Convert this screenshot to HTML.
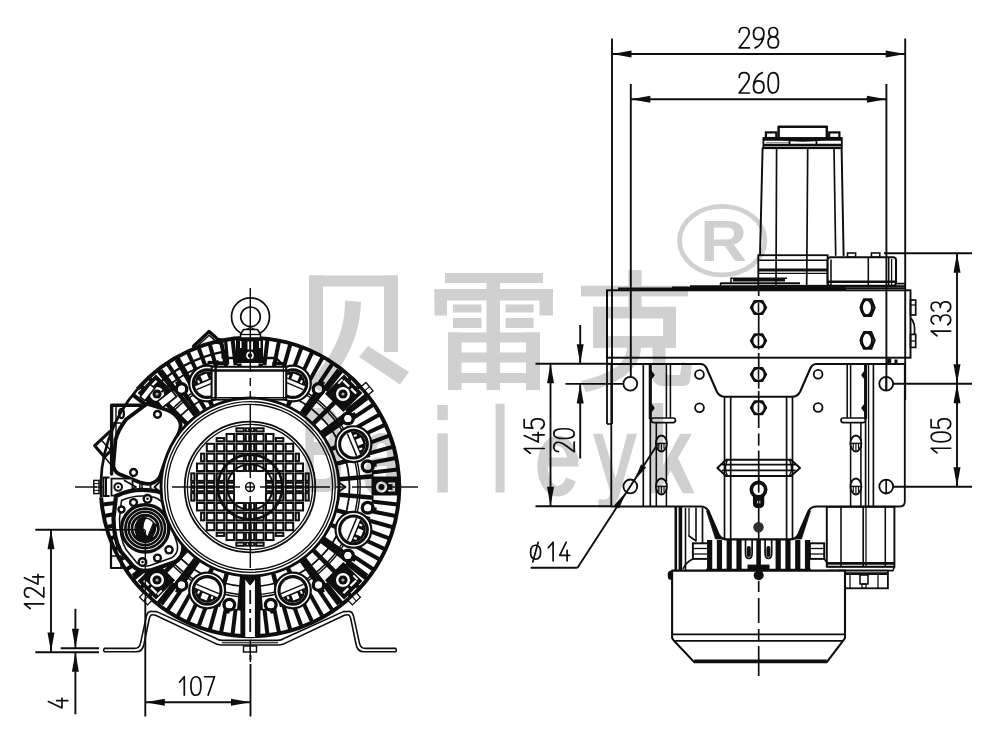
<!DOCTYPE html>
<html><head><meta charset="utf-8"><title>drawing</title>
<style>
html,body{margin:0;padding:0;background:#fff;}
body{width:1000px;height:746px;overflow:hidden;}
svg{display:block;filter:blur(0.45px);}
text{font-family:"Liberation Sans",sans-serif;}
</style></head><body>
<svg width="1000" height="746" viewBox="0 0 1000 746">
<rect x="0" y="0" width="1000" height="746" fill="#ffffff"/>
<g id="left">
<path d="M103.8 648.4 L134.5 648.4 Q139.5 648.4 140.6 642.8 L146.2 617.2 Q147.4 611 151.5 611.4 L156.6 611.6 L215 638 Q219 640.4 222.5 640.4 L250 640.4" fill="none" stroke="#0e0e0e" stroke-width="1.57" stroke-linejoin="round"/>
<path d="M103.8 651.8 L136 651.8 Q142.6 651.8 143.9 644.5 L149.2 619 Q150.2 614.6 152.5 614.8 L155.6 615.2 L213 642.4 Q217 645 221 645 L250 645" fill="none" stroke="#0e0e0e" stroke-width="1.57" stroke-linejoin="round"/>
<line x1="103.8" y1="648.4" x2="103.8" y2="651.8" stroke="#0e0e0e" stroke-width="1.57"/>
<line x1="222" y1="642.8" x2="250" y2="642.8" stroke="#0e0e0e" stroke-width="1.12"/>
<path d="M396.2 648.4 L365.5 648.4 Q360.5 648.4 359.4 642.8 L353.8 617.2 Q352.6 611 348.5 611.4 L343.4 611.6 L285 638 Q281 640.4 277.5 640.4 L250 640.4" fill="none" stroke="#0e0e0e" stroke-width="1.57" stroke-linejoin="round"/>
<path d="M396.2 651.8 L364 651.8 Q357.4 651.8 356.1 644.5 L350.8 619 Q349.8 614.6 347.5 614.8 L344.4 615.2 L287 642.4 Q283 645 279 645 L250 645" fill="none" stroke="#0e0e0e" stroke-width="1.57" stroke-linejoin="round"/>
<line x1="396.2" y1="648.4" x2="396.2" y2="651.8" stroke="#0e0e0e" stroke-width="1.57"/>
<line x1="278" y1="642.8" x2="250" y2="642.8" stroke="#0e0e0e" stroke-width="1.12"/>
<rect x="243.5" y="646" width="13" height="6" rx="0" fill="#fff" stroke="#0e0e0e" stroke-width="1.46"/>
<line x1="250.2" y1="646" x2="250.2" y2="652" stroke="#0e0e0e" stroke-width="1.12"/>
<circle cx="250" cy="487" r="149.2" fill="#fff" stroke="#0e0e0e" stroke-width="0"/>
<path d="M137.4 389.12 A149.2 149.2 0 1 1 101.16 497.41" fill="none" stroke="#0e0e0e" stroke-width="3.92" stroke-linejoin="round"/>
<path d="M137.4 389.12 A149.2 149.2 0 0 0 101.16 497.41" fill="none" stroke="#0e0e0e" stroke-width="2.69" stroke-linejoin="round"/>
<line x1="372.41" y1="482.19" x2="398.39" y2="481.17" stroke="#0e0e0e" stroke-width="4.03"/>
<line x1="371.65" y1="472.6" x2="397.47" y2="469.55" stroke="#0e0e0e" stroke-width="4.03"/>
<line x1="370.15" y1="463.1" x2="395.65" y2="458.03" stroke="#0e0e0e" stroke-width="4.03"/>
<line x1="367.9" y1="453.75" x2="392.92" y2="446.69" stroke="#0e0e0e" stroke-width="4.03"/>
<line x1="364.93" y1="444.6" x2="389.32" y2="435.6" stroke="#0e0e0e" stroke-width="4.03"/>
<line x1="361.25" y1="435.71" x2="384.86" y2="424.83" stroke="#0e0e0e" stroke-width="4.03"/>
<line x1="356.88" y1="427.14" x2="379.57" y2="414.44" stroke="#0e0e0e" stroke-width="4.03"/>
<line x1="351.86" y1="418.94" x2="373.47" y2="404.5" stroke="#0e0e0e" stroke-width="4.03"/>
<line x1="346.2" y1="411.16" x2="366.62" y2="395.06" stroke="#0e0e0e" stroke-width="4.03"/>
<line x1="339.95" y1="403.85" x2="359.05" y2="386.2" stroke="#0e0e0e" stroke-width="4.03"/>
<line x1="333.15" y1="397.05" x2="350.8" y2="377.95" stroke="#0e0e0e" stroke-width="4.03"/>
<line x1="325.84" y1="390.8" x2="341.94" y2="370.38" stroke="#0e0e0e" stroke-width="4.03"/>
<line x1="318.06" y1="385.14" x2="332.5" y2="363.53" stroke="#0e0e0e" stroke-width="4.03"/>
<line x1="309.86" y1="380.12" x2="322.56" y2="357.43" stroke="#0e0e0e" stroke-width="4.03"/>
<line x1="301.29" y1="375.75" x2="312.17" y2="352.14" stroke="#0e0e0e" stroke-width="4.03"/>
<line x1="292.4" y1="372.07" x2="301.4" y2="347.68" stroke="#0e0e0e" stroke-width="4.03"/>
<line x1="283.25" y1="369.1" x2="290.31" y2="344.08" stroke="#0e0e0e" stroke-width="4.03"/>
<line x1="273.9" y1="366.85" x2="278.97" y2="341.35" stroke="#0e0e0e" stroke-width="4.03"/>
<line x1="264.4" y1="365.35" x2="267.45" y2="339.53" stroke="#0e0e0e" stroke-width="4.03"/>
<line x1="235.6" y1="365.35" x2="232.55" y2="339.53" stroke="#0e0e0e" stroke-width="4.03"/>
<line x1="226.1" y1="366.85" x2="221.03" y2="341.35" stroke="#0e0e0e" stroke-width="4.03"/>
<line x1="216.75" y1="369.1" x2="209.69" y2="344.08" stroke="#0e0e0e" stroke-width="4.03"/>
<line x1="207.6" y1="372.07" x2="198.6" y2="347.68" stroke="#0e0e0e" stroke-width="4.03"/>
<line x1="198.71" y1="375.75" x2="187.83" y2="352.14" stroke="#0e0e0e" stroke-width="4.03"/>
<line x1="190.14" y1="380.12" x2="177.44" y2="357.43" stroke="#0e0e0e" stroke-width="4.03"/>
<line x1="181.94" y1="385.14" x2="167.5" y2="363.53" stroke="#0e0e0e" stroke-width="4.03"/>
<line x1="174.16" y1="390.8" x2="158.06" y2="370.38" stroke="#0e0e0e" stroke-width="4.03"/>
<line x1="166.85" y1="397.05" x2="149.2" y2="377.95" stroke="#0e0e0e" stroke-width="4.03"/>
<line x1="160.05" y1="403.85" x2="140.95" y2="386.2" stroke="#0e0e0e" stroke-width="4.03"/>
<line x1="153.8" y1="411.16" x2="133.38" y2="395.06" stroke="#0e0e0e" stroke-width="4.03"/>
<line x1="128.35" y1="501.4" x2="102.53" y2="504.45" stroke="#0e0e0e" stroke-width="4.03"/>
<line x1="129.85" y1="510.9" x2="104.35" y2="515.97" stroke="#0e0e0e" stroke-width="4.03"/>
<line x1="132.1" y1="520.25" x2="107.08" y2="527.31" stroke="#0e0e0e" stroke-width="4.03"/>
<line x1="135.07" y1="529.4" x2="110.68" y2="538.4" stroke="#0e0e0e" stroke-width="4.03"/>
<line x1="138.75" y1="538.29" x2="115.14" y2="549.17" stroke="#0e0e0e" stroke-width="4.03"/>
<line x1="143.12" y1="546.86" x2="120.43" y2="559.56" stroke="#0e0e0e" stroke-width="4.03"/>
<line x1="148.14" y1="555.06" x2="126.53" y2="569.5" stroke="#0e0e0e" stroke-width="4.03"/>
<line x1="153.8" y1="562.84" x2="133.38" y2="578.94" stroke="#0e0e0e" stroke-width="4.03"/>
<line x1="160.05" y1="570.15" x2="140.95" y2="587.8" stroke="#0e0e0e" stroke-width="4.03"/>
<line x1="166.85" y1="576.95" x2="149.2" y2="596.05" stroke="#0e0e0e" stroke-width="4.03"/>
<line x1="174.16" y1="583.2" x2="158.06" y2="603.62" stroke="#0e0e0e" stroke-width="4.03"/>
<line x1="181.94" y1="588.86" x2="167.5" y2="610.47" stroke="#0e0e0e" stroke-width="4.03"/>
<line x1="190.14" y1="593.88" x2="177.44" y2="616.57" stroke="#0e0e0e" stroke-width="4.03"/>
<line x1="198.71" y1="598.25" x2="187.83" y2="621.86" stroke="#0e0e0e" stroke-width="4.03"/>
<line x1="207.6" y1="601.93" x2="198.6" y2="626.32" stroke="#0e0e0e" stroke-width="4.03"/>
<line x1="216.75" y1="604.9" x2="209.69" y2="629.92" stroke="#0e0e0e" stroke-width="4.03"/>
<line x1="226.1" y1="607.15" x2="221.03" y2="632.65" stroke="#0e0e0e" stroke-width="4.03"/>
<line x1="235.6" y1="608.65" x2="232.55" y2="634.47" stroke="#0e0e0e" stroke-width="4.03"/>
<line x1="264.4" y1="608.65" x2="267.45" y2="634.47" stroke="#0e0e0e" stroke-width="4.03"/>
<line x1="273.9" y1="607.15" x2="278.97" y2="632.65" stroke="#0e0e0e" stroke-width="4.03"/>
<line x1="283.25" y1="604.9" x2="290.31" y2="629.92" stroke="#0e0e0e" stroke-width="4.03"/>
<line x1="292.4" y1="601.93" x2="301.4" y2="626.32" stroke="#0e0e0e" stroke-width="4.03"/>
<line x1="301.29" y1="598.25" x2="312.17" y2="621.86" stroke="#0e0e0e" stroke-width="4.03"/>
<line x1="309.86" y1="593.88" x2="322.56" y2="616.57" stroke="#0e0e0e" stroke-width="4.03"/>
<line x1="318.06" y1="588.86" x2="332.5" y2="610.47" stroke="#0e0e0e" stroke-width="4.03"/>
<line x1="325.84" y1="583.2" x2="341.94" y2="603.62" stroke="#0e0e0e" stroke-width="4.03"/>
<line x1="333.15" y1="576.95" x2="350.8" y2="596.05" stroke="#0e0e0e" stroke-width="4.03"/>
<line x1="339.95" y1="570.15" x2="359.05" y2="587.8" stroke="#0e0e0e" stroke-width="4.03"/>
<line x1="346.2" y1="562.84" x2="366.62" y2="578.94" stroke="#0e0e0e" stroke-width="4.03"/>
<line x1="351.86" y1="555.06" x2="373.47" y2="569.5" stroke="#0e0e0e" stroke-width="4.03"/>
<line x1="356.88" y1="546.86" x2="379.57" y2="559.56" stroke="#0e0e0e" stroke-width="4.03"/>
<line x1="361.25" y1="538.29" x2="384.86" y2="549.17" stroke="#0e0e0e" stroke-width="4.03"/>
<line x1="364.93" y1="529.4" x2="389.32" y2="538.4" stroke="#0e0e0e" stroke-width="4.03"/>
<line x1="367.9" y1="520.25" x2="392.92" y2="527.31" stroke="#0e0e0e" stroke-width="4.03"/>
<line x1="370.15" y1="510.9" x2="395.65" y2="515.97" stroke="#0e0e0e" stroke-width="4.03"/>
<line x1="371.65" y1="501.4" x2="397.47" y2="504.45" stroke="#0e0e0e" stroke-width="4.03"/>
<line x1="372.41" y1="491.81" x2="398.39" y2="492.83" stroke="#0e0e0e" stroke-width="4.03"/>
<line x1="339.66" y1="479.16" x2="373.53" y2="476.19" stroke="#0e0e0e" stroke-width="4.48"/>
<line x1="336.93" y1="463.71" x2="369.77" y2="454.91" stroke="#0e0e0e" stroke-width="4.48"/>
<line x1="331.57" y1="448.96" x2="362.38" y2="434.6" stroke="#0e0e0e" stroke-width="4.48"/>
<line x1="323.72" y1="435.38" x2="351.57" y2="415.88" stroke="#0e0e0e" stroke-width="4.48"/>
<line x1="313.64" y1="423.36" x2="337.68" y2="399.32" stroke="#0e0e0e" stroke-width="4.48"/>
<line x1="301.62" y1="413.28" x2="321.12" y2="385.43" stroke="#0e0e0e" stroke-width="4.48"/>
<line x1="288.04" y1="405.43" x2="302.4" y2="374.62" stroke="#0e0e0e" stroke-width="4.48"/>
<line x1="273.29" y1="400.07" x2="282.09" y2="367.23" stroke="#0e0e0e" stroke-width="4.48"/>
<line x1="257.84" y1="397.34" x2="260.81" y2="363.47" stroke="#0e0e0e" stroke-width="4.48"/>
<line x1="242.16" y1="397.34" x2="239.19" y2="363.47" stroke="#0e0e0e" stroke-width="4.48"/>
<line x1="226.71" y1="400.07" x2="217.91" y2="367.23" stroke="#0e0e0e" stroke-width="4.48"/>
<line x1="211.96" y1="405.43" x2="197.6" y2="374.62" stroke="#0e0e0e" stroke-width="4.48"/>
<line x1="198.38" y1="413.28" x2="178.88" y2="385.43" stroke="#0e0e0e" stroke-width="4.48"/>
<line x1="186.36" y1="423.36" x2="162.32" y2="399.32" stroke="#0e0e0e" stroke-width="4.48"/>
<line x1="176.28" y1="435.38" x2="148.43" y2="415.88" stroke="#0e0e0e" stroke-width="4.48"/>
<line x1="168.43" y1="448.96" x2="137.62" y2="434.6" stroke="#0e0e0e" stroke-width="4.48"/>
<line x1="163.07" y1="463.71" x2="130.23" y2="454.91" stroke="#0e0e0e" stroke-width="4.48"/>
<line x1="160.34" y1="479.16" x2="126.47" y2="476.19" stroke="#0e0e0e" stroke-width="4.48"/>
<line x1="160.34" y1="494.84" x2="126.47" y2="497.81" stroke="#0e0e0e" stroke-width="4.48"/>
<line x1="163.07" y1="510.29" x2="130.23" y2="519.09" stroke="#0e0e0e" stroke-width="4.48"/>
<line x1="168.43" y1="525.04" x2="137.62" y2="539.4" stroke="#0e0e0e" stroke-width="4.48"/>
<line x1="176.28" y1="538.62" x2="148.43" y2="558.12" stroke="#0e0e0e" stroke-width="4.48"/>
<line x1="186.36" y1="550.64" x2="162.32" y2="574.68" stroke="#0e0e0e" stroke-width="4.48"/>
<line x1="198.38" y1="560.72" x2="178.88" y2="588.57" stroke="#0e0e0e" stroke-width="4.48"/>
<line x1="211.96" y1="568.57" x2="197.6" y2="599.38" stroke="#0e0e0e" stroke-width="4.48"/>
<line x1="226.71" y1="573.93" x2="217.91" y2="606.77" stroke="#0e0e0e" stroke-width="4.48"/>
<line x1="242.16" y1="576.66" x2="239.19" y2="610.53" stroke="#0e0e0e" stroke-width="4.48"/>
<line x1="257.84" y1="576.66" x2="260.81" y2="610.53" stroke="#0e0e0e" stroke-width="4.48"/>
<line x1="273.29" y1="573.93" x2="282.09" y2="606.77" stroke="#0e0e0e" stroke-width="4.48"/>
<line x1="288.04" y1="568.57" x2="302.4" y2="599.38" stroke="#0e0e0e" stroke-width="4.48"/>
<line x1="301.62" y1="560.72" x2="321.12" y2="588.57" stroke="#0e0e0e" stroke-width="4.48"/>
<line x1="313.64" y1="550.64" x2="337.68" y2="574.68" stroke="#0e0e0e" stroke-width="4.48"/>
<line x1="323.72" y1="538.62" x2="351.57" y2="558.12" stroke="#0e0e0e" stroke-width="4.48"/>
<line x1="331.57" y1="525.04" x2="362.38" y2="539.4" stroke="#0e0e0e" stroke-width="4.48"/>
<line x1="336.93" y1="510.29" x2="369.77" y2="519.09" stroke="#0e0e0e" stroke-width="4.48"/>
<line x1="339.66" y1="494.84" x2="373.53" y2="497.81" stroke="#0e0e0e" stroke-width="4.48"/>
<line x1="321.69" y1="432.59" x2="367.09" y2="398.12" stroke="#0e0e0e" stroke-width="4.26"/>
<line x1="304.41" y1="415.31" x2="338.88" y2="369.91" stroke="#0e0e0e" stroke-width="4.26"/>
<line x1="205" y1="409.06" x2="176.5" y2="359.69" stroke="#0e0e0e" stroke-width="4.26"/>
<line x1="195.34" y1="415.5" x2="160.72" y2="370.22" stroke="#0e0e0e" stroke-width="4.26"/>
<line x1="304.41" y1="558.69" x2="338.88" y2="604.09" stroke="#0e0e0e" stroke-width="4.26"/>
<line x1="321.69" y1="541.41" x2="367.09" y2="575.88" stroke="#0e0e0e" stroke-width="4.26"/>
<line x1="178.31" y1="541.41" x2="132.91" y2="575.88" stroke="#0e0e0e" stroke-width="4.26"/>
<line x1="195.59" y1="558.69" x2="161.12" y2="604.09" stroke="#0e0e0e" stroke-width="4.26"/>
<circle cx="250" cy="487" r="99.5" fill="none" stroke="#0e0e0e" stroke-width="1.79"/>
<circle cx="250" cy="487" r="108" fill="none" stroke="#0e0e0e" stroke-width="1.46"/>
<circle cx="250" cy="487" r="110.2" fill="none" stroke="#0e0e0e" stroke-width="1.46"/>
<circle cx="353.47" cy="444.14" r="19" fill="#0e0e0e" stroke="#0e0e0e" stroke-width="0"/>
<circle cx="353.47" cy="444.14" r="16.1" fill="none" stroke="#fff" stroke-width="1.46"/>
<circle cx="353.47" cy="444.14" r="12.3" fill="#fff" stroke="#0e0e0e" stroke-width="0"/>
<g transform="translate(353.47 444.14) rotate(247.5)">
<path d="M-12.1 2.2 A12.3 12.3 0 0 0 12.1 2.2 Z" fill="#0e0e0e"/>
<rect x="-3.3" y="3.8" width="6.6" height="5.6" fill="#fff"/>
<rect x="-8.2" y="3.4" width="2" height="3" fill="#fff"/>
<rect x="6.2" y="3.4" width="2" height="3" fill="#fff"/>
<line x1="-12" y1="-1.6" x2="12" y2="-1.6" stroke="#0e0e0e" stroke-width="1.5"/>
</g>
<circle cx="353.47" cy="529.86" r="19" fill="#0e0e0e" stroke="#0e0e0e" stroke-width="0"/>
<circle cx="353.47" cy="529.86" r="16.1" fill="none" stroke="#fff" stroke-width="1.46"/>
<circle cx="353.47" cy="529.86" r="12.3" fill="#fff" stroke="#0e0e0e" stroke-width="0"/>
<g transform="translate(353.47 529.86) rotate(-67.5)">
<path d="M-12.1 2.2 A12.3 12.3 0 0 0 12.1 2.2 Z" fill="#0e0e0e"/>
<rect x="-3.3" y="3.8" width="6.6" height="5.6" fill="#fff"/>
<rect x="-8.2" y="3.4" width="2" height="3" fill="#fff"/>
<rect x="6.2" y="3.4" width="2" height="3" fill="#fff"/>
<line x1="-12" y1="-1.6" x2="12" y2="-1.6" stroke="#0e0e0e" stroke-width="1.5"/>
</g>
<circle cx="292.86" cy="590.47" r="19" fill="#0e0e0e" stroke="#0e0e0e" stroke-width="0"/>
<circle cx="292.86" cy="590.47" r="16.1" fill="none" stroke="#fff" stroke-width="1.46"/>
<circle cx="292.86" cy="590.47" r="12.3" fill="#fff" stroke="#0e0e0e" stroke-width="0"/>
<g transform="translate(292.86 590.47) rotate(-22.5)">
<path d="M-12.1 2.2 A12.3 12.3 0 0 0 12.1 2.2 Z" fill="#0e0e0e"/>
<rect x="-3.3" y="3.8" width="6.6" height="5.6" fill="#fff"/>
<rect x="-8.2" y="3.4" width="2" height="3" fill="#fff"/>
<rect x="6.2" y="3.4" width="2" height="3" fill="#fff"/>
<line x1="-12" y1="-1.6" x2="12" y2="-1.6" stroke="#0e0e0e" stroke-width="1.5"/>
</g>
<circle cx="207.14" cy="590.47" r="19" fill="#0e0e0e" stroke="#0e0e0e" stroke-width="0"/>
<circle cx="207.14" cy="590.47" r="16.1" fill="none" stroke="#fff" stroke-width="1.46"/>
<circle cx="207.14" cy="590.47" r="12.3" fill="#fff" stroke="#0e0e0e" stroke-width="0"/>
<g transform="translate(207.14 590.47) rotate(22.5)">
<path d="M-12.1 2.2 A12.3 12.3 0 0 0 12.1 2.2 Z" fill="#0e0e0e"/>
<rect x="-3.3" y="3.8" width="6.6" height="5.6" fill="#fff"/>
<rect x="-8.2" y="3.4" width="2" height="3" fill="#fff"/>
<rect x="6.2" y="3.4" width="2" height="3" fill="#fff"/>
<line x1="-12" y1="-1.6" x2="12" y2="-1.6" stroke="#0e0e0e" stroke-width="1.5"/>
</g>
<circle cx="292.86" cy="383.53" r="19" fill="#0e0e0e" stroke="#0e0e0e" stroke-width="0"/>
<circle cx="292.86" cy="383.53" r="16.1" fill="none" stroke="#fff" stroke-width="1.46"/>
<circle cx="292.86" cy="383.53" r="12.3" fill="#fff" stroke="#0e0e0e" stroke-width="0"/>
<g transform="translate(292.86 383.53) rotate(202.5)">
<path d="M-12.1 2.2 A12.3 12.3 0 0 0 12.1 2.2 Z" fill="#0e0e0e"/>
<rect x="-3.3" y="3.8" width="6.6" height="5.6" fill="#fff"/>
<rect x="-8.2" y="3.4" width="2" height="3" fill="#fff"/>
<rect x="6.2" y="3.4" width="2" height="3" fill="#fff"/>
<line x1="-12" y1="-1.6" x2="12" y2="-1.6" stroke="#0e0e0e" stroke-width="1.5"/>
</g>
<circle cx="207.14" cy="383.53" r="19" fill="#0e0e0e" stroke="#0e0e0e" stroke-width="0"/>
<circle cx="207.14" cy="383.53" r="16.1" fill="none" stroke="#fff" stroke-width="1.46"/>
<circle cx="207.14" cy="383.53" r="12.3" fill="#fff" stroke="#0e0e0e" stroke-width="0"/>
<g transform="translate(207.14 383.53) rotate(157.5)">
<path d="M-12.1 2.2 A12.3 12.3 0 0 0 12.1 2.2 Z" fill="#0e0e0e"/>
<rect x="-3.3" y="3.8" width="6.6" height="5.6" fill="#fff"/>
<rect x="-8.2" y="3.4" width="2" height="3" fill="#fff"/>
<rect x="6.2" y="3.4" width="2" height="3" fill="#fff"/>
<line x1="-12" y1="-1.6" x2="12" y2="-1.6" stroke="#0e0e0e" stroke-width="1.5"/>
</g>
<circle cx="367.68" cy="466.25" r="7" fill="#0e0e0e" stroke="#0e0e0e" stroke-width="0"/>
<circle cx="367.68" cy="466.25" r="3.5" fill="#fff" stroke="#0e0e0e" stroke-width="0"/>
<line x1="367.68" y1="466.25" x2="376.55" y2="464.69" stroke="#0e0e0e" stroke-width="3.36"/>
<circle cx="367.68" cy="466.25" r="3.5" fill="#fff" stroke="#0e0e0e" stroke-width="0"/>
<circle cx="347.89" cy="418.46" r="7" fill="#0e0e0e" stroke="#0e0e0e" stroke-width="0"/>
<circle cx="347.89" cy="418.46" r="3.5" fill="#fff" stroke="#0e0e0e" stroke-width="0"/>
<line x1="347.89" y1="418.46" x2="355.26" y2="413.3" stroke="#0e0e0e" stroke-width="3.36"/>
<circle cx="347.89" cy="418.46" r="3.5" fill="#fff" stroke="#0e0e0e" stroke-width="0"/>
<circle cx="318.54" cy="389.11" r="7" fill="#0e0e0e" stroke="#0e0e0e" stroke-width="0"/>
<circle cx="318.54" cy="389.11" r="3.5" fill="#fff" stroke="#0e0e0e" stroke-width="0"/>
<line x1="318.54" y1="389.11" x2="323.7" y2="381.74" stroke="#0e0e0e" stroke-width="3.36"/>
<circle cx="318.54" cy="389.11" r="3.5" fill="#fff" stroke="#0e0e0e" stroke-width="0"/>
<circle cx="181.46" cy="389.11" r="7" fill="#0e0e0e" stroke="#0e0e0e" stroke-width="0"/>
<circle cx="181.46" cy="389.11" r="3.5" fill="#fff" stroke="#0e0e0e" stroke-width="0"/>
<line x1="181.46" y1="389.11" x2="176.3" y2="381.74" stroke="#0e0e0e" stroke-width="3.36"/>
<circle cx="181.46" cy="389.11" r="3.5" fill="#fff" stroke="#0e0e0e" stroke-width="0"/>
<circle cx="181.46" cy="584.89" r="7" fill="#0e0e0e" stroke="#0e0e0e" stroke-width="0"/>
<circle cx="181.46" cy="584.89" r="3.5" fill="#fff" stroke="#0e0e0e" stroke-width="0"/>
<line x1="181.46" y1="584.89" x2="176.3" y2="592.26" stroke="#0e0e0e" stroke-width="3.36"/>
<circle cx="181.46" cy="584.89" r="3.5" fill="#fff" stroke="#0e0e0e" stroke-width="0"/>
<circle cx="229.25" cy="604.68" r="7" fill="#0e0e0e" stroke="#0e0e0e" stroke-width="0"/>
<circle cx="229.25" cy="604.68" r="3.5" fill="#fff" stroke="#0e0e0e" stroke-width="0"/>
<line x1="229.25" y1="604.68" x2="227.69" y2="613.55" stroke="#0e0e0e" stroke-width="3.36"/>
<circle cx="229.25" cy="604.68" r="3.5" fill="#fff" stroke="#0e0e0e" stroke-width="0"/>
<circle cx="270.75" cy="604.68" r="7" fill="#0e0e0e" stroke="#0e0e0e" stroke-width="0"/>
<circle cx="270.75" cy="604.68" r="3.5" fill="#fff" stroke="#0e0e0e" stroke-width="0"/>
<line x1="270.75" y1="604.68" x2="272.31" y2="613.55" stroke="#0e0e0e" stroke-width="3.36"/>
<circle cx="270.75" cy="604.68" r="3.5" fill="#fff" stroke="#0e0e0e" stroke-width="0"/>
<circle cx="318.54" cy="584.89" r="7" fill="#0e0e0e" stroke="#0e0e0e" stroke-width="0"/>
<circle cx="318.54" cy="584.89" r="3.5" fill="#fff" stroke="#0e0e0e" stroke-width="0"/>
<line x1="318.54" y1="584.89" x2="323.7" y2="592.26" stroke="#0e0e0e" stroke-width="3.36"/>
<circle cx="318.54" cy="584.89" r="3.5" fill="#fff" stroke="#0e0e0e" stroke-width="0"/>
<circle cx="347.89" cy="555.54" r="7" fill="#0e0e0e" stroke="#0e0e0e" stroke-width="0"/>
<circle cx="347.89" cy="555.54" r="3.5" fill="#fff" stroke="#0e0e0e" stroke-width="0"/>
<line x1="347.89" y1="555.54" x2="355.26" y2="560.7" stroke="#0e0e0e" stroke-width="3.36"/>
<circle cx="347.89" cy="555.54" r="3.5" fill="#fff" stroke="#0e0e0e" stroke-width="0"/>
<circle cx="367.68" cy="507.75" r="7" fill="#0e0e0e" stroke="#0e0e0e" stroke-width="0"/>
<circle cx="367.68" cy="507.75" r="3.5" fill="#fff" stroke="#0e0e0e" stroke-width="0"/>
<line x1="367.68" y1="507.75" x2="376.55" y2="509.31" stroke="#0e0e0e" stroke-width="3.36"/>
<circle cx="367.68" cy="507.75" r="3.5" fill="#fff" stroke="#0e0e0e" stroke-width="0"/>
<g transform="translate(342.98 394.02) rotate(-45)">
<rect x="-12.5" y="-13" width="27" height="26" fill="#0e0e0e"/>
<rect x="8.5" y="-9" width="2.2" height="8" fill="#fff"/>
<rect x="8.5" y="2" width="2.2" height="7" fill="#fff"/>
<rect x="4" y="-11.5" width="6" height="1.8" fill="#fff"/>
</g>
<circle cx="342.98" cy="394.02" r="7" fill="#fff" stroke="#0e0e0e" stroke-width="0"/>
<circle cx="342.98" cy="394.02" r="4.6" fill="#0e0e0e" stroke="#0e0e0e" stroke-width="0"/>
<circle cx="342.98" cy="394.02" r="1.6" fill="#aaa" stroke="#0e0e0e" stroke-width="0"/>
<g transform="translate(157.02 394.02) rotate(-135)">
<rect x="-12.5" y="-13" width="27" height="26" fill="#0e0e0e"/>
<rect x="8.5" y="-9" width="2.2" height="8" fill="#fff"/>
<rect x="8.5" y="2" width="2.2" height="7" fill="#fff"/>
<rect x="4" y="-11.5" width="6" height="1.8" fill="#fff"/>
</g>
<circle cx="157.02" cy="394.02" r="7" fill="#fff" stroke="#0e0e0e" stroke-width="0"/>
<circle cx="157.02" cy="394.02" r="4.6" fill="#0e0e0e" stroke="#0e0e0e" stroke-width="0"/>
<circle cx="157.02" cy="394.02" r="1.6" fill="#aaa" stroke="#0e0e0e" stroke-width="0"/>
<g transform="translate(157.02 579.98) rotate(-225)">
<rect x="-12.5" y="-13" width="27" height="26" fill="#0e0e0e"/>
<rect x="8.5" y="-9" width="2.2" height="8" fill="#fff"/>
<rect x="8.5" y="2" width="2.2" height="7" fill="#fff"/>
<rect x="4" y="-11.5" width="6" height="1.8" fill="#fff"/>
</g>
<circle cx="157.02" cy="579.98" r="7" fill="#fff" stroke="#0e0e0e" stroke-width="0"/>
<circle cx="157.02" cy="579.98" r="4.6" fill="#0e0e0e" stroke="#0e0e0e" stroke-width="0"/>
<circle cx="157.02" cy="579.98" r="1.6" fill="#aaa" stroke="#0e0e0e" stroke-width="0"/>
<g transform="translate(342.98 579.98) rotate(-315)">
<rect x="-12.5" y="-13" width="27" height="26" fill="#0e0e0e"/>
<rect x="8.5" y="-9" width="2.2" height="8" fill="#fff"/>
<rect x="8.5" y="2" width="2.2" height="7" fill="#fff"/>
<rect x="4" y="-11.5" width="6" height="1.8" fill="#fff"/>
</g>
<circle cx="342.98" cy="579.98" r="7" fill="#fff" stroke="#0e0e0e" stroke-width="0"/>
<circle cx="342.98" cy="579.98" r="4.6" fill="#0e0e0e" stroke="#0e0e0e" stroke-width="0"/>
<circle cx="342.98" cy="579.98" r="1.6" fill="#aaa" stroke="#0e0e0e" stroke-width="0"/>
<g transform="translate(366.82 388.97) rotate(-40)">
<rect x="-2.5" y="-5.5" width="6" height="11" fill="#fff" stroke="#0e0e0e" stroke-width="1.3"/>
<line x1="-2.5" y1="0" x2="3.5" y2="0" stroke="#0e0e0e" stroke-width="1"/>
</g>
<g transform="translate(146 598.53) rotate(-227)">
<rect x="-2.5" y="-5.5" width="6" height="11" fill="#fff" stroke="#0e0e0e" stroke-width="1.3"/>
<line x1="-2.5" y1="0" x2="3.5" y2="0" stroke="#0e0e0e" stroke-width="1"/>
</g>
<g transform="translate(354 598.53) rotate(-313)">
<rect x="-2.5" y="-5.5" width="6" height="11" fill="#fff" stroke="#0e0e0e" stroke-width="1.3"/>
<line x1="-2.5" y1="0" x2="3.5" y2="0" stroke="#0e0e0e" stroke-width="1"/>
</g>
<rect x="371.5" y="476.5" width="29" height="19" rx="0" fill="#0e0e0e" stroke="#0e0e0e" stroke-width="0"/>
<circle cx="381.5" cy="487" r="5.6" fill="#fff" stroke="#0e0e0e" stroke-width="0"/>
<circle cx="381.5" cy="487" r="3" fill="#0e0e0e" stroke="#0e0e0e" stroke-width="0"/>
<rect x="392.5" y="482.5" width="2.6" height="9" rx="0" fill="#fff" stroke="#0e0e0e" stroke-width="0"/>
<rect x="388.3" y="482.5" width="4.5" height="1.6" rx="0" fill="#fff" stroke="#0e0e0e" stroke-width="0"/>
<rect x="388.3" y="489.9" width="4.5" height="1.6" rx="0" fill="#fff" stroke="#0e0e0e" stroke-width="0"/>
<path d="M337.5 481.5 L345.5 487 L337.5 492.5 Z" fill="#fff" stroke="#0e0e0e" stroke-width="1.79" stroke-linejoin="round" stroke-linecap="round"/>
<rect x="240.4" y="573" width="20" height="64" rx="0" fill="#0e0e0e" stroke="#0e0e0e" stroke-width="0"/>
<rect x="245.3" y="579" width="9.6" height="58" rx="0" fill="#fff" stroke="#0e0e0e" stroke-width="0"/>
<path d="M245.3 579 L250.1 585 L254.9 579 Z" fill="#0e0e0e" stroke="#0e0e0e" stroke-width="1.12" stroke-linejoin="round" stroke-linecap="round"/>
<line x1="250.2" y1="590" x2="250.2" y2="604" stroke="#0e0e0e" stroke-width="1.79"/>
<line x1="250.2" y1="609" x2="250.2" y2="613" stroke="#0e0e0e" stroke-width="1.79"/>
<line x1="250.2" y1="618" x2="250.2" y2="632" stroke="#0e0e0e" stroke-width="1.79"/>
<rect x="211.6" y="366.8" width="74.6" height="32.8" rx="0" fill="#fff" stroke="#0e0e0e" stroke-width="2.02"/>
<line x1="215.6" y1="366.8" x2="215.6" y2="399.6" stroke="#0e0e0e" stroke-width="2.46"/>
<line x1="211.6" y1="370.4" x2="286.2" y2="370.4" stroke="#0e0e0e" stroke-width="2.46"/>
<line x1="211.6" y1="397.6" x2="286.2" y2="397.6" stroke="#0e0e0e" stroke-width="1.12"/>
<line x1="283.4" y1="366.8" x2="283.4" y2="399.6" stroke="#0e0e0e" stroke-width="1.12"/>
<line x1="213.6" y1="363.6" x2="227" y2="363.6" stroke="#0e0e0e" stroke-width="3.36"/>
<line x1="272.4" y1="363.6" x2="286.4" y2="363.6" stroke="#0e0e0e" stroke-width="3.36"/>
<rect x="236" y="339" width="27" height="24" rx="0" fill="#0e0e0e" stroke="#0e0e0e" stroke-width="0"/>
<rect x="247.5" y="341.5" width="1.8" height="8" rx="0" fill="#fff" stroke="#0e0e0e" stroke-width="0"/>
<rect x="251.2" y="341.5" width="1.8" height="8" rx="0" fill="#fff" stroke="#0e0e0e" stroke-width="0"/>
<rect x="240" y="341" width="1.5" height="7" rx="0" fill="#fff" stroke="#0e0e0e" stroke-width="0"/>
<rect x="259" y="341" width="1.5" height="7" rx="0" fill="#fff" stroke="#0e0e0e" stroke-width="0"/>
<circle cx="250" cy="355.4" r="4.6" fill="#fff" stroke="#0e0e0e" stroke-width="1.57"/>
<circle cx="250" cy="355.4" r="2.2" fill="#0e0e0e" stroke="#0e0e0e" stroke-width="0"/>
<path d="M228 358 L236 358" fill="none" stroke="#0e0e0e" stroke-width="2.46" stroke-linejoin="round" stroke-linecap="round"/>
<path d="M263 358 L276 358 L280 362" fill="none" stroke="#0e0e0e" stroke-width="2.46" stroke-linejoin="round" stroke-linecap="round"/>
<circle cx="250.5" cy="316.8" r="19" fill="#fff" stroke="#0e0e0e" stroke-width="1.68"/>
<circle cx="250.5" cy="316.8" r="9.8" fill="none" stroke="#0e0e0e" stroke-width="1.68"/>
<path d="M240.5 334.5 L243.5 329.5 L257.5 329.5 L260.5 334.5 L260.5 338 L240.5 338 Z" fill="#fff" stroke="#0e0e0e" stroke-width="1.57" stroke-linejoin="round" stroke-linecap="round"/>
<line x1="241" y1="334.5" x2="260" y2="334.5" stroke="#0e0e0e" stroke-width="1.34"/>
<path d="M246 329.5 L250.5 327.5 L255 329.5" fill="none" stroke="#0e0e0e" stroke-width="1.23" stroke-linejoin="round" stroke-linecap="round"/>
<path d="M193.5 346.3 L209.1 331.5 L218 339.5 L225.6 341.2 L227.6 363.4 L209 362.4" fill="none" stroke="#0e0e0e" stroke-width="3.36" stroke-linejoin="round" stroke-linecap="round"/>
<path d="M197.5 346 L209.1 335.2 L215.5 341" fill="none" stroke="#0e0e0e" stroke-width="1.57" stroke-linejoin="round" stroke-linecap="round"/>
<path d="M216.5 343 L222.5 344.5 L224 360" fill="none" stroke="#0e0e0e" stroke-width="1.57" stroke-linejoin="round" stroke-linecap="round"/>
<rect x="221.5" y="349.5" width="6" height="9" rx="0" fill="#0e0e0e" stroke="#0e0e0e" stroke-width="0"/>
<path d="M223.67 351.54 A138 138 0 0 0 149.07 392.88" fill="none" stroke="#0e0e0e" stroke-width="2.24" stroke-linejoin="round"/>
<path d="M218.55 360.86 A130 130 0 0 0 161.34 391.92" fill="none" stroke="#0e0e0e" stroke-width="2.02" stroke-linejoin="round"/>
<g transform="translate(167 399) rotate(-38)"><rect x="-9" y="-4" width="18" height="8" fill="#fff" stroke="#0e0e0e" stroke-width="1.8"/></g>
<g transform="translate(147.5 392.5) rotate(-52)"><rect x="-8" y="-3" width="16" height="6" fill="#fff" stroke="#0e0e0e" stroke-width="1.6"/></g>
<path d="M111.6 474 L111.6 405.3 L140.5 405.3" fill="none" stroke="#0e0e0e" stroke-width="3.36" stroke-linejoin="round" stroke-linecap="round"/>
<line x1="111.6" y1="423" x2="121" y2="423" stroke="#0e0e0e" stroke-width="1.57"/>
<line x1="116" y1="405.3" x2="116" y2="440" stroke="#0e0e0e" stroke-width="1.46"/>
<ellipse cx="121.5" cy="413.5" rx="2.4" ry="4.6" fill="none" stroke="#0e0e0e" stroke-width="2.24"/>
<path d="M109.7 431.6 L94.7 445.7 L104.5 457 L111.6 450" fill="none" stroke="#0e0e0e" stroke-width="3.14" stroke-linejoin="round" stroke-linecap="round"/>
<path d="M101 439.8 L111.4 451" fill="none" stroke="#0e0e0e" stroke-width="1.57" stroke-linejoin="round" stroke-linecap="round"/>
<path d="M104.5 457 L112 466" fill="none" stroke="#0e0e0e" stroke-width="1.57" stroke-linejoin="round" stroke-linecap="round"/>
<path d="M147 403.8 L126 419.5 Q118 430 115.5 440 L113.3 465 Q113.5 471 119 474 L139.5 482.2 Q146 484.5 151 483.5 Q157.5 481.5 160 476.5 Q163.5 466 166.5 459 Q171.5 446 177.5 436 Q182 427.5 180 421.5 Q176 413.5 167 410 Z" fill="#fff" stroke="#0e0e0e" stroke-width="3.81" stroke-linejoin="round"/>
<circle cx="157.5" cy="414.3" r="3.4" fill="none" stroke="#0e0e0e" stroke-width="2.46"/>
<circle cx="133.6" cy="472.5" r="3.4" fill="none" stroke="#0e0e0e" stroke-width="2.46"/>
<rect x="93.8" y="480.4" width="5.2" height="13.2" rx="0" fill="#fff" stroke="#0e0e0e" stroke-width="1.46"/>
<line x1="93.8" y1="483.6" x2="99" y2="483.6" stroke="#0e0e0e" stroke-width="1.01"/>
<line x1="93.8" y1="487" x2="99" y2="487" stroke="#0e0e0e" stroke-width="1.01"/>
<line x1="93.8" y1="490.4" x2="99" y2="490.4" stroke="#0e0e0e" stroke-width="1.01"/>
<line x1="99" y1="487" x2="103" y2="487" stroke="#0e0e0e" stroke-width="1.34"/>
<path d="M109.6 477.6 L103.4 477.6 L103.4 496 L109.6 496 M106 477.6 L106 496" fill="none" stroke="#0e0e0e" stroke-width="2.02" stroke-linejoin="round"/>
<rect x="111.5" y="478.6" width="21" height="17" rx="0" fill="#fff" stroke="#0e0e0e" stroke-width="1.79"/>
<circle cx="118.2" cy="487" r="3.8" fill="none" stroke="#0e0e0e" stroke-width="2.02"/>
<circle cx="118.2" cy="487" r="1.2" fill="#0e0e0e" stroke="#0e0e0e" stroke-width="0"/>
<path d="M124.5 480.5 L136 487 L124.5 493.5" fill="none" stroke="#0e0e0e" stroke-width="1.79" stroke-linejoin="round" stroke-linecap="round"/>
<path d="M161 480.5 L154.5 487 L161 493.5" fill="none" stroke="#0e0e0e" stroke-width="1.79" stroke-linejoin="round" stroke-linecap="round"/>
<path d="M111 540 L111 568 L122 568" fill="none" stroke="#0e0e0e" stroke-width="2.24" stroke-linejoin="round" stroke-linecap="round"/>
<path d="M111 556 L121 556 L121 568" fill="none" stroke="#0e0e0e" stroke-width="1.46" stroke-linejoin="round" stroke-linecap="round"/>
<path d="M116 496 Q135 486.5 158 491.5 Q165 494 168.5 501 L182.5 541 Q186 555.5 175 562 L152 570 Q140 573 133 566 L120.5 551 Q113.5 538 113.5 518 Z" fill="#fff" stroke="#0e0e0e" stroke-width="4.26" stroke-linejoin="round"/>
<path d="M121.5 500.5 Q137 493.5 155 497.5 Q161.5 500 164.5 506.5 L177 543 Q179.5 553.5 171 558 L150 565.5 Q141.5 567.5 137 563 L126 549.5 Q119.5 538 119.5 519 Z" fill="none" stroke="#0e0e0e" stroke-width="1.57" stroke-linejoin="round"/>
<circle cx="145.2" cy="528.4" r="23.6" fill="#fff" stroke="#0e0e0e" stroke-width="3.36"/>
<circle cx="145.2" cy="528.4" r="19.8" fill="none" stroke="#0e0e0e" stroke-width="2.69"/>
<circle cx="145.2" cy="528.4" r="16.6" fill="none" stroke="#0e0e0e" stroke-width="2.46"/>
<circle cx="145.2" cy="528.4" r="13.2" fill="none" stroke="#0e0e0e" stroke-width="2.91"/>
<circle cx="145.2" cy="528.4" r="10.2" fill="none" stroke="#0e0e0e" stroke-width="1.34"/>
<path d="M136 526 Q137.5 516.5 146 517.5 Q141.5 524 143.5 531 L147.5 537.5 L153.5 523 L156.5 525 L151 541 Q141 544 136.5 537 Z" fill="#0e0e0e" stroke="#0e0e0e" stroke-width="1.34" stroke-linejoin="round"/>
<circle cx="147.5" cy="498.8" r="5" fill="#0e0e0e" stroke="#0e0e0e" stroke-width="0"/>
<circle cx="147.5" cy="498.8" r="2.6" fill="#fff" stroke="#0e0e0e" stroke-width="0"/>
<circle cx="147.5" cy="498.8" r="1.3" fill="#0e0e0e" stroke="#0e0e0e" stroke-width="0"/>
<circle cx="133.5" cy="502.5" r="4.6" fill="#0e0e0e" stroke="#0e0e0e" stroke-width="0"/>
<circle cx="133.5" cy="502.5" r="2.2" fill="#fff" stroke="#0e0e0e" stroke-width="0"/>
<circle cx="121.5" cy="509.5" r="4.2" fill="#0e0e0e" stroke="#0e0e0e" stroke-width="0"/>
<circle cx="121.5" cy="509.5" r="1.8" fill="#fff" stroke="#0e0e0e" stroke-width="0"/>
<circle cx="169" cy="549.8" r="4.8" fill="#0e0e0e" stroke="#0e0e0e" stroke-width="0"/>
<circle cx="169" cy="549.8" r="2.4" fill="#fff" stroke="#0e0e0e" stroke-width="0"/>
<circle cx="157.5" cy="558" r="4.6" fill="#0e0e0e" stroke="#0e0e0e" stroke-width="0"/>
<circle cx="157.5" cy="558" r="2.2" fill="#fff" stroke="#0e0e0e" stroke-width="0"/>
<circle cx="142.5" cy="562" r="5" fill="#0e0e0e" stroke="#0e0e0e" stroke-width="0"/>
<circle cx="142.5" cy="562" r="2.6" fill="#fff" stroke="#0e0e0e" stroke-width="0"/>
<circle cx="142.5" cy="562" r="1.3" fill="#0e0e0e" stroke="#0e0e0e" stroke-width="0"/>
<line x1="100" y1="529.8" x2="145" y2="529.8" stroke="#0e0e0e" stroke-width="1.46"/>
<line x1="145.3" y1="530" x2="145.3" y2="600" stroke="#0e0e0e" stroke-width="1.34"/>
<circle cx="250" cy="487" r="89" fill="#fff" stroke="#0e0e0e" stroke-width="2.91"/>
<circle cx="250" cy="487" r="85.3" fill="none" stroke="#0e0e0e" stroke-width="1.34"/>
<circle cx="250" cy="487" r="82.6" fill="none" stroke="#0e0e0e" stroke-width="1.34"/>
<circle cx="250" cy="487" r="65.3" fill="none" stroke="#0e0e0e" stroke-width="1.79"/>
<circle cx="250" cy="487" r="62.6" fill="none" stroke="#0e0e0e" stroke-width="1.34"/>
<rect x="191.24" y="473.39" width="3.2" height="7.5" rx="0" fill="none" stroke="#0e0e0e" stroke-width="2.02"/>
<rect x="191.24" y="482.9" width="3.2" height="3.2" rx="0" fill="none" stroke="#0e0e0e" stroke-width="1.79"/>
<rect x="191.24" y="487.9" width="3.2" height="3.2" rx="0" fill="none" stroke="#0e0e0e" stroke-width="1.79"/>
<rect x="191.24" y="493.11" width="3.2" height="7.5" rx="0" fill="none" stroke="#0e0e0e" stroke-width="2.02"/>
<rect x="201.1" y="453.67" width="3.2" height="7.5" rx="0" fill="none" stroke="#0e0e0e" stroke-width="2.02"/>
<rect x="196.95" y="463.53" width="7.5" height="7.5" rx="0" fill="none" stroke="#0e0e0e" stroke-width="2.02"/>
<rect x="196.95" y="473.39" width="7.5" height="7.5" rx="0" fill="none" stroke="#0e0e0e" stroke-width="2.02"/>
<rect x="196.95" y="482.9" width="7.5" height="3.2" rx="0" fill="none" stroke="#0e0e0e" stroke-width="1.79"/>
<rect x="196.95" y="487.9" width="7.5" height="3.2" rx="0" fill="none" stroke="#0e0e0e" stroke-width="1.79"/>
<rect x="196.95" y="493.11" width="7.5" height="7.5" rx="0" fill="none" stroke="#0e0e0e" stroke-width="2.02"/>
<rect x="196.95" y="502.97" width="7.5" height="7.5" rx="0" fill="none" stroke="#0e0e0e" stroke-width="2.02"/>
<rect x="201.1" y="512.83" width="3.2" height="7.5" rx="0" fill="none" stroke="#0e0e0e" stroke-width="2.02"/>
<rect x="206.81" y="443.81" width="7.5" height="7.5" rx="0" fill="none" stroke="#0e0e0e" stroke-width="2.02"/>
<rect x="206.81" y="453.67" width="7.5" height="7.5" rx="0" fill="none" stroke="#0e0e0e" stroke-width="2.02"/>
<rect x="206.81" y="463.53" width="7.5" height="7.5" rx="0" fill="none" stroke="#0e0e0e" stroke-width="2.02"/>
<rect x="206.81" y="473.39" width="7.5" height="7.5" rx="0" fill="none" stroke="#0e0e0e" stroke-width="2.02"/>
<rect x="206.81" y="482.9" width="7.5" height="3.2" rx="0" fill="none" stroke="#0e0e0e" stroke-width="1.79"/>
<rect x="206.81" y="487.9" width="7.5" height="3.2" rx="0" fill="none" stroke="#0e0e0e" stroke-width="1.79"/>
<rect x="206.81" y="493.11" width="7.5" height="7.5" rx="0" fill="none" stroke="#0e0e0e" stroke-width="2.02"/>
<rect x="206.81" y="502.97" width="7.5" height="7.5" rx="0" fill="none" stroke="#0e0e0e" stroke-width="2.02"/>
<rect x="206.81" y="512.83" width="7.5" height="7.5" rx="0" fill="none" stroke="#0e0e0e" stroke-width="2.02"/>
<rect x="206.81" y="522.69" width="7.5" height="7.5" rx="0" fill="none" stroke="#0e0e0e" stroke-width="2.02"/>
<rect x="216.67" y="438.1" width="7.5" height="3.2" rx="0" fill="none" stroke="#0e0e0e" stroke-width="2.02"/>
<rect x="216.67" y="443.81" width="7.5" height="7.5" rx="0" fill="none" stroke="#0e0e0e" stroke-width="2.02"/>
<rect x="216.67" y="453.67" width="7.5" height="7.5" rx="0" fill="none" stroke="#0e0e0e" stroke-width="2.02"/>
<rect x="216.67" y="463.53" width="7.5" height="7.5" rx="0" fill="none" stroke="#0e0e0e" stroke-width="2.02"/>
<rect x="216.67" y="473.39" width="7.5" height="7.5" rx="0" fill="none" stroke="#0e0e0e" stroke-width="2.02"/>
<rect x="216.67" y="482.9" width="7.5" height="3.2" rx="0" fill="none" stroke="#0e0e0e" stroke-width="1.79"/>
<rect x="216.67" y="487.9" width="7.5" height="3.2" rx="0" fill="none" stroke="#0e0e0e" stroke-width="1.79"/>
<rect x="216.67" y="493.11" width="7.5" height="7.5" rx="0" fill="none" stroke="#0e0e0e" stroke-width="2.02"/>
<rect x="216.67" y="502.97" width="7.5" height="7.5" rx="0" fill="none" stroke="#0e0e0e" stroke-width="2.02"/>
<rect x="216.67" y="512.83" width="7.5" height="7.5" rx="0" fill="none" stroke="#0e0e0e" stroke-width="2.02"/>
<rect x="216.67" y="522.69" width="7.5" height="7.5" rx="0" fill="none" stroke="#0e0e0e" stroke-width="2.02"/>
<rect x="216.67" y="532.7" width="7.5" height="3.2" rx="0" fill="none" stroke="#0e0e0e" stroke-width="2.02"/>
<rect x="226.53" y="433.95" width="7.5" height="7.5" rx="0" fill="none" stroke="#0e0e0e" stroke-width="2.02"/>
<rect x="226.53" y="443.81" width="7.5" height="7.5" rx="0" fill="none" stroke="#0e0e0e" stroke-width="2.02"/>
<rect x="226.53" y="453.67" width="7.5" height="7.5" rx="0" fill="none" stroke="#0e0e0e" stroke-width="2.02"/>
<rect x="226.53" y="463.53" width="7.5" height="7.5" rx="0" fill="none" stroke="#0e0e0e" stroke-width="2.02"/>
<rect x="226.53" y="473.39" width="7.5" height="7.5" rx="0" fill="none" stroke="#0e0e0e" stroke-width="2.02"/>
<rect x="226.53" y="482.9" width="7.5" height="3.2" rx="0" fill="none" stroke="#0e0e0e" stroke-width="1.79"/>
<rect x="226.53" y="487.9" width="7.5" height="3.2" rx="0" fill="none" stroke="#0e0e0e" stroke-width="1.79"/>
<rect x="226.53" y="493.11" width="7.5" height="7.5" rx="0" fill="none" stroke="#0e0e0e" stroke-width="2.02"/>
<rect x="226.53" y="502.97" width="7.5" height="7.5" rx="0" fill="none" stroke="#0e0e0e" stroke-width="2.02"/>
<rect x="226.53" y="512.83" width="7.5" height="7.5" rx="0" fill="none" stroke="#0e0e0e" stroke-width="2.02"/>
<rect x="226.53" y="522.69" width="7.5" height="7.5" rx="0" fill="none" stroke="#0e0e0e" stroke-width="2.02"/>
<rect x="226.53" y="532.55" width="7.5" height="7.5" rx="0" fill="none" stroke="#0e0e0e" stroke-width="2.02"/>
<rect x="236.39" y="428.24" width="7.5" height="3.2" rx="0" fill="none" stroke="#0e0e0e" stroke-width="2.02"/>
<rect x="236.39" y="433.95" width="7.5" height="7.5" rx="0" fill="none" stroke="#0e0e0e" stroke-width="2.02"/>
<rect x="236.39" y="443.81" width="7.5" height="7.5" rx="0" fill="none" stroke="#0e0e0e" stroke-width="2.02"/>
<rect x="236.39" y="453.67" width="7.5" height="7.5" rx="0" fill="none" stroke="#0e0e0e" stroke-width="2.02"/>
<rect x="236.39" y="463.53" width="7.5" height="7.5" rx="0" fill="none" stroke="#0e0e0e" stroke-width="2.02"/>
<rect x="236.39" y="502.97" width="7.5" height="7.5" rx="0" fill="none" stroke="#0e0e0e" stroke-width="2.02"/>
<rect x="236.39" y="512.83" width="7.5" height="7.5" rx="0" fill="none" stroke="#0e0e0e" stroke-width="2.02"/>
<rect x="236.39" y="522.69" width="7.5" height="7.5" rx="0" fill="none" stroke="#0e0e0e" stroke-width="2.02"/>
<rect x="236.39" y="532.55" width="7.5" height="7.5" rx="0" fill="none" stroke="#0e0e0e" stroke-width="2.02"/>
<rect x="236.39" y="542.56" width="7.5" height="3.2" rx="0" fill="none" stroke="#0e0e0e" stroke-width="2.02"/>
<rect x="245.9" y="428.24" width="3.2" height="3.2" rx="0" fill="none" stroke="#0e0e0e" stroke-width="1.79"/>
<rect x="250.9" y="428.24" width="3.2" height="3.2" rx="0" fill="none" stroke="#0e0e0e" stroke-width="1.79"/>
<rect x="245.9" y="433.95" width="3.2" height="7.5" rx="0" fill="none" stroke="#0e0e0e" stroke-width="1.79"/>
<rect x="250.9" y="433.95" width="3.2" height="7.5" rx="0" fill="none" stroke="#0e0e0e" stroke-width="1.79"/>
<rect x="245.9" y="443.81" width="3.2" height="7.5" rx="0" fill="none" stroke="#0e0e0e" stroke-width="1.79"/>
<rect x="250.9" y="443.81" width="3.2" height="7.5" rx="0" fill="none" stroke="#0e0e0e" stroke-width="1.79"/>
<rect x="245.9" y="453.67" width="3.2" height="7.5" rx="0" fill="none" stroke="#0e0e0e" stroke-width="1.79"/>
<rect x="250.9" y="453.67" width="3.2" height="7.5" rx="0" fill="none" stroke="#0e0e0e" stroke-width="1.79"/>
<rect x="245.9" y="463.53" width="3.2" height="7.5" rx="0" fill="none" stroke="#0e0e0e" stroke-width="1.79"/>
<rect x="250.9" y="463.53" width="3.2" height="7.5" rx="0" fill="none" stroke="#0e0e0e" stroke-width="1.79"/>
<rect x="245.9" y="502.97" width="3.2" height="7.5" rx="0" fill="none" stroke="#0e0e0e" stroke-width="1.79"/>
<rect x="250.9" y="502.97" width="3.2" height="7.5" rx="0" fill="none" stroke="#0e0e0e" stroke-width="1.79"/>
<rect x="245.9" y="512.83" width="3.2" height="7.5" rx="0" fill="none" stroke="#0e0e0e" stroke-width="1.79"/>
<rect x="250.9" y="512.83" width="3.2" height="7.5" rx="0" fill="none" stroke="#0e0e0e" stroke-width="1.79"/>
<rect x="245.9" y="522.69" width="3.2" height="7.5" rx="0" fill="none" stroke="#0e0e0e" stroke-width="1.79"/>
<rect x="250.9" y="522.69" width="3.2" height="7.5" rx="0" fill="none" stroke="#0e0e0e" stroke-width="1.79"/>
<rect x="245.9" y="532.55" width="3.2" height="7.5" rx="0" fill="none" stroke="#0e0e0e" stroke-width="1.79"/>
<rect x="250.9" y="532.55" width="3.2" height="7.5" rx="0" fill="none" stroke="#0e0e0e" stroke-width="1.79"/>
<rect x="245.9" y="542.56" width="3.2" height="3.2" rx="0" fill="none" stroke="#0e0e0e" stroke-width="1.79"/>
<rect x="250.9" y="542.56" width="3.2" height="3.2" rx="0" fill="none" stroke="#0e0e0e" stroke-width="1.79"/>
<rect x="256.11" y="428.24" width="7.5" height="3.2" rx="0" fill="none" stroke="#0e0e0e" stroke-width="2.02"/>
<rect x="256.11" y="433.95" width="7.5" height="7.5" rx="0" fill="none" stroke="#0e0e0e" stroke-width="2.02"/>
<rect x="256.11" y="443.81" width="7.5" height="7.5" rx="0" fill="none" stroke="#0e0e0e" stroke-width="2.02"/>
<rect x="256.11" y="453.67" width="7.5" height="7.5" rx="0" fill="none" stroke="#0e0e0e" stroke-width="2.02"/>
<rect x="256.11" y="463.53" width="7.5" height="7.5" rx="0" fill="none" stroke="#0e0e0e" stroke-width="2.02"/>
<rect x="256.11" y="502.97" width="7.5" height="7.5" rx="0" fill="none" stroke="#0e0e0e" stroke-width="2.02"/>
<rect x="256.11" y="512.83" width="7.5" height="7.5" rx="0" fill="none" stroke="#0e0e0e" stroke-width="2.02"/>
<rect x="256.11" y="522.69" width="7.5" height="7.5" rx="0" fill="none" stroke="#0e0e0e" stroke-width="2.02"/>
<rect x="256.11" y="532.55" width="7.5" height="7.5" rx="0" fill="none" stroke="#0e0e0e" stroke-width="2.02"/>
<rect x="256.11" y="542.56" width="7.5" height="3.2" rx="0" fill="none" stroke="#0e0e0e" stroke-width="2.02"/>
<rect x="265.97" y="433.95" width="7.5" height="7.5" rx="0" fill="none" stroke="#0e0e0e" stroke-width="2.02"/>
<rect x="265.97" y="443.81" width="7.5" height="7.5" rx="0" fill="none" stroke="#0e0e0e" stroke-width="2.02"/>
<rect x="265.97" y="453.67" width="7.5" height="7.5" rx="0" fill="none" stroke="#0e0e0e" stroke-width="2.02"/>
<rect x="265.97" y="463.53" width="7.5" height="7.5" rx="0" fill="none" stroke="#0e0e0e" stroke-width="2.02"/>
<rect x="265.97" y="473.39" width="7.5" height="7.5" rx="0" fill="none" stroke="#0e0e0e" stroke-width="2.02"/>
<rect x="265.97" y="482.9" width="7.5" height="3.2" rx="0" fill="none" stroke="#0e0e0e" stroke-width="1.79"/>
<rect x="265.97" y="487.9" width="7.5" height="3.2" rx="0" fill="none" stroke="#0e0e0e" stroke-width="1.79"/>
<rect x="265.97" y="493.11" width="7.5" height="7.5" rx="0" fill="none" stroke="#0e0e0e" stroke-width="2.02"/>
<rect x="265.97" y="502.97" width="7.5" height="7.5" rx="0" fill="none" stroke="#0e0e0e" stroke-width="2.02"/>
<rect x="265.97" y="512.83" width="7.5" height="7.5" rx="0" fill="none" stroke="#0e0e0e" stroke-width="2.02"/>
<rect x="265.97" y="522.69" width="7.5" height="7.5" rx="0" fill="none" stroke="#0e0e0e" stroke-width="2.02"/>
<rect x="265.97" y="532.55" width="7.5" height="7.5" rx="0" fill="none" stroke="#0e0e0e" stroke-width="2.02"/>
<rect x="275.83" y="438.1" width="7.5" height="3.2" rx="0" fill="none" stroke="#0e0e0e" stroke-width="2.02"/>
<rect x="275.83" y="443.81" width="7.5" height="7.5" rx="0" fill="none" stroke="#0e0e0e" stroke-width="2.02"/>
<rect x="275.83" y="453.67" width="7.5" height="7.5" rx="0" fill="none" stroke="#0e0e0e" stroke-width="2.02"/>
<rect x="275.83" y="463.53" width="7.5" height="7.5" rx="0" fill="none" stroke="#0e0e0e" stroke-width="2.02"/>
<rect x="275.83" y="473.39" width="7.5" height="7.5" rx="0" fill="none" stroke="#0e0e0e" stroke-width="2.02"/>
<rect x="275.83" y="482.9" width="7.5" height="3.2" rx="0" fill="none" stroke="#0e0e0e" stroke-width="1.79"/>
<rect x="275.83" y="487.9" width="7.5" height="3.2" rx="0" fill="none" stroke="#0e0e0e" stroke-width="1.79"/>
<rect x="275.83" y="493.11" width="7.5" height="7.5" rx="0" fill="none" stroke="#0e0e0e" stroke-width="2.02"/>
<rect x="275.83" y="502.97" width="7.5" height="7.5" rx="0" fill="none" stroke="#0e0e0e" stroke-width="2.02"/>
<rect x="275.83" y="512.83" width="7.5" height="7.5" rx="0" fill="none" stroke="#0e0e0e" stroke-width="2.02"/>
<rect x="275.83" y="522.69" width="7.5" height="7.5" rx="0" fill="none" stroke="#0e0e0e" stroke-width="2.02"/>
<rect x="275.83" y="532.7" width="7.5" height="3.2" rx="0" fill="none" stroke="#0e0e0e" stroke-width="2.02"/>
<rect x="285.69" y="443.81" width="7.5" height="7.5" rx="0" fill="none" stroke="#0e0e0e" stroke-width="2.02"/>
<rect x="285.69" y="453.67" width="7.5" height="7.5" rx="0" fill="none" stroke="#0e0e0e" stroke-width="2.02"/>
<rect x="285.69" y="463.53" width="7.5" height="7.5" rx="0" fill="none" stroke="#0e0e0e" stroke-width="2.02"/>
<rect x="285.69" y="473.39" width="7.5" height="7.5" rx="0" fill="none" stroke="#0e0e0e" stroke-width="2.02"/>
<rect x="285.69" y="482.9" width="7.5" height="3.2" rx="0" fill="none" stroke="#0e0e0e" stroke-width="1.79"/>
<rect x="285.69" y="487.9" width="7.5" height="3.2" rx="0" fill="none" stroke="#0e0e0e" stroke-width="1.79"/>
<rect x="285.69" y="493.11" width="7.5" height="7.5" rx="0" fill="none" stroke="#0e0e0e" stroke-width="2.02"/>
<rect x="285.69" y="502.97" width="7.5" height="7.5" rx="0" fill="none" stroke="#0e0e0e" stroke-width="2.02"/>
<rect x="285.69" y="512.83" width="7.5" height="7.5" rx="0" fill="none" stroke="#0e0e0e" stroke-width="2.02"/>
<rect x="285.69" y="522.69" width="7.5" height="7.5" rx="0" fill="none" stroke="#0e0e0e" stroke-width="2.02"/>
<rect x="295.7" y="453.67" width="3.2" height="7.5" rx="0" fill="none" stroke="#0e0e0e" stroke-width="2.02"/>
<rect x="295.55" y="463.53" width="7.5" height="7.5" rx="0" fill="none" stroke="#0e0e0e" stroke-width="2.02"/>
<rect x="295.55" y="473.39" width="7.5" height="7.5" rx="0" fill="none" stroke="#0e0e0e" stroke-width="2.02"/>
<rect x="295.55" y="482.9" width="7.5" height="3.2" rx="0" fill="none" stroke="#0e0e0e" stroke-width="1.79"/>
<rect x="295.55" y="487.9" width="7.5" height="3.2" rx="0" fill="none" stroke="#0e0e0e" stroke-width="1.79"/>
<rect x="295.55" y="493.11" width="7.5" height="7.5" rx="0" fill="none" stroke="#0e0e0e" stroke-width="2.02"/>
<rect x="295.55" y="502.97" width="7.5" height="7.5" rx="0" fill="none" stroke="#0e0e0e" stroke-width="2.02"/>
<rect x="295.7" y="512.83" width="3.2" height="7.5" rx="0" fill="none" stroke="#0e0e0e" stroke-width="2.02"/>
<rect x="305.56" y="473.39" width="3.2" height="7.5" rx="0" fill="none" stroke="#0e0e0e" stroke-width="2.02"/>
<rect x="305.56" y="482.9" width="3.2" height="3.2" rx="0" fill="none" stroke="#0e0e0e" stroke-width="1.79"/>
<rect x="305.56" y="487.9" width="3.2" height="3.2" rx="0" fill="none" stroke="#0e0e0e" stroke-width="1.79"/>
<rect x="305.56" y="493.11" width="3.2" height="7.5" rx="0" fill="none" stroke="#0e0e0e" stroke-width="2.02"/>
<circle cx="250" cy="487" r="32.3" fill="none" stroke="#0e0e0e" stroke-width="2.69"/>
<circle cx="250" cy="487" r="22.8" fill="none" stroke="#0e0e0e" stroke-width="2.02"/>
<circle cx="250" cy="487" r="4.4" fill="#fff" stroke="#0e0e0e" stroke-width="1.46"/>
<line x1="75" y1="487" x2="97" y2="487" stroke="#0e0e0e" stroke-width="1.46"/>
<line x1="172" y1="487" x2="240" y2="487" stroke="#0e0e0e" stroke-width="1.46"/>
<line x1="245" y1="487" x2="255" y2="487" stroke="#0e0e0e" stroke-width="1.46"/>
<line x1="260" y1="487" x2="330" y2="487" stroke="#0e0e0e" stroke-width="1.46"/>
<line x1="336" y1="487" x2="346" y2="487" stroke="#0e0e0e" stroke-width="1.46"/>
<line x1="352" y1="487" x2="372" y2="487" stroke="#0e0e0e" stroke-width="1.46"/>
<line x1="392" y1="487" x2="418" y2="487" stroke="#0e0e0e" stroke-width="1.46"/>
<line x1="250.3" y1="288" x2="250.3" y2="372" stroke="#0e0e0e" stroke-width="1.46"/>
<line x1="250.3" y1="378" x2="250.3" y2="386" stroke="#0e0e0e" stroke-width="1.46"/>
<line x1="250.3" y1="391" x2="250.3" y2="398" stroke="#0e0e0e" stroke-width="1.46"/>
<line x1="250.3" y1="404" x2="250.3" y2="478" stroke="#0e0e0e" stroke-width="1.46"/>
<line x1="250.3" y1="483" x2="250.3" y2="491" stroke="#0e0e0e" stroke-width="1.46"/>
<line x1="250.3" y1="496" x2="250.3" y2="568" stroke="#0e0e0e" stroke-width="1.46"/>
<line x1="250.3" y1="640" x2="250.3" y2="662" stroke="#0e0e0e" stroke-width="1.46"/>
</g>
<g id="right">
<path d="M778.6 126.8 L826.8 126.8 L826.8 138.6 Q802.7 142.4 778.6 138.6 Z" fill="#fff" stroke="#0e0e0e" stroke-width="2.47" stroke-linejoin="round"/>
<rect x="765.9" y="132.4" width="10.4" height="5.6" rx="0" fill="none" stroke="#0e0e0e" stroke-width="2.21"/>
<rect x="829.2" y="132.4" width="10.2" height="5.6" rx="0" fill="none" stroke="#0e0e0e" stroke-width="2.21"/>
<rect x="763.4" y="138" width="78.4" height="10.2" rx="0" fill="none" stroke="#0e0e0e" stroke-width="1.82"/>
<line x1="763.4" y1="139.2" x2="841.8" y2="139.2" stroke="#0e0e0e" stroke-width="2.86"/>
<line x1="766" y1="142.6" x2="789" y2="142.6" stroke="#888" stroke-width="1.04"/>
<line x1="763.4" y1="145" x2="841.8" y2="145" stroke="#0e0e0e" stroke-width="2.47"/>
<line x1="763.4" y1="147.8" x2="841.8" y2="147.8" stroke="#0e0e0e" stroke-width="1.95"/>
<line x1="789.5" y1="141" x2="789.5" y2="144.4" stroke="#0e0e0e" stroke-width="1.82"/>
<line x1="816.5" y1="141" x2="816.5" y2="144.4" stroke="#0e0e0e" stroke-width="1.82"/>
<path d="M762.6 148.2 L760 255.2" fill="none" stroke="#0e0e0e" stroke-width="1.95" stroke-linejoin="round" stroke-linecap="round"/>
<path d="M841.6 148.2 L843.6 255.2" fill="none" stroke="#0e0e0e" stroke-width="1.95" stroke-linejoin="round" stroke-linecap="round"/>
<path d="M776.6 148.2 L776 285" fill="none" stroke="#0e0e0e" stroke-width="1.69" stroke-linejoin="round" stroke-linecap="round"/>
<path d="M807.7 148.2 L806.7 285" fill="none" stroke="#0e0e0e" stroke-width="1.69" stroke-linejoin="round" stroke-linecap="round"/>
<path d="M834 148.2 L835.7 255.2" fill="none" stroke="#0e0e0e" stroke-width="1.69" stroke-linejoin="round" stroke-linecap="round"/>
<rect x="758.3" y="255.2" width="69.3" height="30.6" rx="0" fill="none" stroke="#0e0e0e" stroke-width="1.82"/>
<line x1="758.3" y1="260.3" x2="827.6" y2="260.3" stroke="#0e0e0e" stroke-width="1.56"/>
<line x1="758.3" y1="270" x2="827.6" y2="270" stroke="#0e0e0e" stroke-width="3.12"/>
<line x1="758.3" y1="273.4" x2="827.6" y2="273.4" stroke="#0e0e0e" stroke-width="1.3"/>
<rect x="827.6" y="257.2" width="68.4" height="28.6" rx="3" fill="#fff" stroke="#0e0e0e" stroke-width="2.08"/>
<line x1="831" y1="259.5" x2="831" y2="285.8" stroke="#0e0e0e" stroke-width="1.56"/>
<line x1="868.3" y1="257.2" x2="868.3" y2="285.8" stroke="#0e0e0e" stroke-width="1.56"/>
<line x1="888.7" y1="257.2" x2="888.7" y2="285.8" stroke="#0e0e0e" stroke-width="1.56"/>
<line x1="891.6" y1="259" x2="891.6" y2="285.8" stroke="#0e0e0e" stroke-width="1.3"/>
<rect x="847.5" y="253" width="8.1" height="4.2" rx="0" fill="none" stroke="#0e0e0e" stroke-width="1.56"/>
<rect x="871.4" y="253" width="8.4" height="4.2" rx="0" fill="none" stroke="#0e0e0e" stroke-width="1.56"/>
<line x1="827.6" y1="281.8" x2="896" y2="281.8" stroke="#0e0e0e" stroke-width="2.6"/>
<path d="M896 283.6 L905.2 283.6" fill="none" stroke="#0e0e0e" stroke-width="1.56" stroke-linejoin="round" stroke-linecap="round"/>
<line x1="731" y1="278.2" x2="787" y2="278.2" stroke="#0e0e0e" stroke-width="1.56"/>
<line x1="733" y1="280.3" x2="785" y2="280.3" stroke="#0e0e0e" stroke-width="2.6"/>
<line x1="720.6" y1="283.3" x2="800" y2="283.3" stroke="#0e0e0e" stroke-width="2.08"/>
<path d="M720.6 283.3 L720.6 287" fill="none" stroke="#0e0e0e" stroke-width="1.56" stroke-linejoin="round" stroke-linecap="round"/>
<path d="M731 278.2 L731 283" fill="none" stroke="#0e0e0e" stroke-width="1.56" stroke-linejoin="round" stroke-linecap="round"/>
<line x1="690" y1="286.2" x2="905" y2="286.2" stroke="#0e0e0e" stroke-width="2.08"/>
<rect x="607" y="290.3" width="303.5" height="67.4" rx="0" fill="none" stroke="#0e0e0e" stroke-width="1.95"/>
<line x1="618" y1="288.6" x2="672" y2="288.6" stroke="#0e0e0e" stroke-width="2.34"/>
<line x1="672" y1="288.3" x2="846" y2="288.3" stroke="#0e0e0e" stroke-width="3.64"/>
<line x1="846" y1="288.2" x2="905" y2="288.2" stroke="#0e0e0e" stroke-width="1.69"/>
<line x1="641" y1="289.2" x2="700" y2="289.2" stroke="#0e0e0e" stroke-width="1.82"/>
<path d="M750.8 307.5 L754.5 301 L762.5 301 L766.2 307.5 L762.5 314 L754.5 314 Z" fill="#fff" stroke="#0e0e0e" stroke-width="1.95" stroke-linejoin="round" stroke-linecap="round"/>
<ellipse cx="758.5" cy="307.5" rx="5.9" ry="6" fill="none" stroke="#0e0e0e" stroke-width="1.56"/>
<line x1="758.5" y1="302.5" x2="758.5" y2="312.5" stroke="#0e0e0e" stroke-width="1.56"/>
<path d="M750.8 340.8 L754.5 334.3 L762.5 334.3 L766.2 340.8 L762.5 347.3 L754.5 347.3 Z" fill="#fff" stroke="#0e0e0e" stroke-width="1.95" stroke-linejoin="round" stroke-linecap="round"/>
<ellipse cx="758.5" cy="340.8" rx="5.9" ry="6" fill="none" stroke="#0e0e0e" stroke-width="1.56"/>
<line x1="758.5" y1="335.8" x2="758.5" y2="345.8" stroke="#0e0e0e" stroke-width="1.56"/>
<path d="M750.8 374.5 L754.5 368 L762.5 368 L766.2 374.5 L762.5 381 L754.5 381 Z" fill="#fff" stroke="#0e0e0e" stroke-width="1.95" stroke-linejoin="round" stroke-linecap="round"/>
<ellipse cx="758.5" cy="374.5" rx="5.9" ry="6" fill="none" stroke="#0e0e0e" stroke-width="1.56"/>
<line x1="758.5" y1="369.5" x2="758.5" y2="379.5" stroke="#0e0e0e" stroke-width="1.56"/>
<path d="M750.8 407.7 L754.5 401.2 L762.5 401.2 L766.2 407.7 L762.5 414.2 L754.5 414.2 Z" fill="#fff" stroke="#0e0e0e" stroke-width="1.95" stroke-linejoin="round" stroke-linecap="round"/>
<ellipse cx="758.5" cy="407.7" rx="5.9" ry="6" fill="none" stroke="#0e0e0e" stroke-width="1.56"/>
<line x1="758.5" y1="402.7" x2="758.5" y2="412.7" stroke="#0e0e0e" stroke-width="1.56"/>
<path d="M860.4 307.6 L863.86 299.2 L871.34 299.2 L874.8 307.6 L871.34 316 L863.86 316 Z" fill="#fff" stroke="#0e0e0e" stroke-width="1.95" stroke-linejoin="round" stroke-linecap="round"/>
<ellipse cx="867.6" cy="307.6" rx="5.4" ry="7.9" fill="none" stroke="#0e0e0e" stroke-width="1.56"/>
<ellipse cx="866.2" cy="307.6" rx="5.6" ry="7.6" fill="none" stroke="#0e0e0e" stroke-width="1.56"/>
<path d="M860.4 340.4 L863.86 332 L871.34 332 L874.8 340.4 L871.34 348.8 L863.86 348.8 Z" fill="#fff" stroke="#0e0e0e" stroke-width="1.95" stroke-linejoin="round" stroke-linecap="round"/>
<ellipse cx="867.6" cy="340.4" rx="5.4" ry="7.9" fill="none" stroke="#0e0e0e" stroke-width="1.56"/>
<ellipse cx="866.2" cy="340.4" rx="5.6" ry="7.6" fill="none" stroke="#0e0e0e" stroke-width="1.56"/>
<rect x="910.5" y="300" width="5.2" height="15" rx="0" fill="none" stroke="#0e0e0e" stroke-width="1.69"/>
<line x1="910.5" y1="305" x2="915.7" y2="305" stroke="#0e0e0e" stroke-width="1.3"/>
<rect x="910.5" y="334.4" width="5.2" height="13" rx="0" fill="none" stroke="#0e0e0e" stroke-width="1.69"/>
<line x1="910.5" y1="341" x2="915.7" y2="341" stroke="#0e0e0e" stroke-width="1.3"/>
<path d="M910.5 318 Q915.5 322 914.5 334.4" fill="none" stroke="#0e0e0e" stroke-width="1.69" stroke-linejoin="round"/>
<rect x="887.2" y="358.5" width="4" height="5" rx="0" fill="#0e0e0e" stroke="#0e0e0e" stroke-width="0"/>
<rect x="894.5" y="359.5" width="3" height="4" rx="0" fill="#0e0e0e" stroke="#0e0e0e" stroke-width="0"/>
<path d="M607 364 L700.5 364 Q704.5 364 706.5 368 L717 392 Q719.5 396.7 725 396.7 L792 396.7 Q797.5 396.7 800 392 L810.5 368 Q812.5 364 816.5 364 L904.8 364" fill="none" stroke="#0e0e0e" stroke-width="2.08" stroke-linejoin="round"/>
<line x1="607" y1="290.3" x2="607" y2="424" stroke="#0e0e0e" stroke-width="1.82"/>
<line x1="607" y1="424" x2="612" y2="424" stroke="#0e0e0e" stroke-width="1.69"/>
<line x1="611.3" y1="364" x2="611.3" y2="506.3" stroke="#0e0e0e" stroke-width="1.82"/>
<path d="M904.8 364 L904.8 501.5 Q904.8 506.5 899.8 506.5" fill="none" stroke="#0e0e0e" stroke-width="1.82" stroke-linejoin="round"/>
<path d="M611.3 506.5 L700.5 506.5 Q706 506.5 708.5 511 L718.5 534 Q721 539.4 727 539.4 L790 539.4 Q796 539.4 798.5 534 L808.5 511 Q811 506.5 816.5 506.5 L899.8 506.5" fill="none" stroke="#0e0e0e" stroke-width="2.08" stroke-linejoin="round"/>
<line x1="643.3" y1="364" x2="643.3" y2="506.5" stroke="#0e0e0e" stroke-width="1.69"/>
<line x1="650.3" y1="364" x2="650.3" y2="419" stroke="#0e0e0e" stroke-width="3.12"/>
<line x1="650.3" y1="419" x2="650.3" y2="506.5" stroke="#0e0e0e" stroke-width="1.69"/>
<line x1="656.3" y1="422" x2="656.3" y2="506.5" stroke="#0e0e0e" stroke-width="1.56"/>
<line x1="666.4" y1="364" x2="666.4" y2="506.5" stroke="#0e0e0e" stroke-width="1.56"/>
<line x1="670.4" y1="364" x2="670.4" y2="418" stroke="#0e0e0e" stroke-width="1.56"/>
<path d="M650.3 370 L654 375 L650.3 380 Z" fill="#0e0e0e" stroke="#0e0e0e" stroke-width="1.3" stroke-linejoin="round" stroke-linecap="round"/>
<path d="M650.3 403 L654 408 L650.3 413 Z" fill="#0e0e0e" stroke="#0e0e0e" stroke-width="1.3" stroke-linejoin="round" stroke-linecap="round"/>
<rect x="651.3" y="418" width="24.2" height="4.6" rx="2.3" fill="#fff" stroke="#0e0e0e" stroke-width="1.69"/>
<line x1="847.2" y1="364" x2="847.2" y2="418" stroke="#0e0e0e" stroke-width="1.56"/>
<line x1="850.6" y1="364" x2="850.6" y2="506.5" stroke="#0e0e0e" stroke-width="1.56"/>
<line x1="860.9" y1="422" x2="860.9" y2="506.5" stroke="#0e0e0e" stroke-width="1.56"/>
<line x1="865.6" y1="364" x2="865.6" y2="419" stroke="#0e0e0e" stroke-width="3.12"/>
<line x1="865.6" y1="419" x2="865.6" y2="506.5" stroke="#0e0e0e" stroke-width="1.69"/>
<line x1="868.6" y1="364" x2="868.6" y2="506.5" stroke="#0e0e0e" stroke-width="1.3"/>
<line x1="873.4" y1="364" x2="873.4" y2="506.5" stroke="#0e0e0e" stroke-width="1.69"/>
<path d="M865.6 370 L862 375 L865.6 380 Z" fill="#0e0e0e" stroke="#0e0e0e" stroke-width="1.3" stroke-linejoin="round" stroke-linecap="round"/>
<path d="M865.6 403 L862 408 L865.6 413 Z" fill="#0e0e0e" stroke="#0e0e0e" stroke-width="1.3" stroke-linejoin="round" stroke-linecap="round"/>
<rect x="841" y="418" width="24.4" height="4.6" rx="2.3" fill="#fff" stroke="#0e0e0e" stroke-width="1.69"/>
<ellipse cx="661.4" cy="443.4" rx="5.4" ry="8" fill="#fff" stroke="#0e0e0e" stroke-width="1.95"/>
<line x1="656" y1="443.4" x2="666.8" y2="443.4" stroke="#0e0e0e" stroke-width="1.43"/>
<line x1="658.8" y1="443.9" x2="658.8" y2="448.78" stroke="#0e0e0e" stroke-width="1.17"/>
<line x1="661.4" y1="443.9" x2="661.4" y2="450.6" stroke="#0e0e0e" stroke-width="1.17"/>
<line x1="664" y1="443.9" x2="664" y2="448.78" stroke="#0e0e0e" stroke-width="1.17"/>
<ellipse cx="855.9" cy="443.4" rx="5.4" ry="8" fill="#fff" stroke="#0e0e0e" stroke-width="1.95"/>
<line x1="850.5" y1="443.4" x2="861.3" y2="443.4" stroke="#0e0e0e" stroke-width="1.43"/>
<line x1="853.3" y1="443.9" x2="853.3" y2="448.78" stroke="#0e0e0e" stroke-width="1.17"/>
<line x1="855.9" y1="443.9" x2="855.9" y2="450.6" stroke="#0e0e0e" stroke-width="1.17"/>
<line x1="858.5" y1="443.9" x2="858.5" y2="448.78" stroke="#0e0e0e" stroke-width="1.17"/>
<ellipse cx="661.4" cy="486.4" rx="5.4" ry="8" fill="#fff" stroke="#0e0e0e" stroke-width="1.95"/>
<line x1="656" y1="486.4" x2="666.8" y2="486.4" stroke="#0e0e0e" stroke-width="1.43"/>
<line x1="658.8" y1="486.9" x2="658.8" y2="491.78" stroke="#0e0e0e" stroke-width="1.17"/>
<line x1="661.4" y1="486.9" x2="661.4" y2="493.6" stroke="#0e0e0e" stroke-width="1.17"/>
<line x1="664" y1="486.9" x2="664" y2="491.78" stroke="#0e0e0e" stroke-width="1.17"/>
<ellipse cx="855.9" cy="486.4" rx="5.4" ry="8" fill="#fff" stroke="#0e0e0e" stroke-width="1.95"/>
<line x1="850.5" y1="486.4" x2="861.3" y2="486.4" stroke="#0e0e0e" stroke-width="1.43"/>
<line x1="853.3" y1="486.9" x2="853.3" y2="491.78" stroke="#0e0e0e" stroke-width="1.17"/>
<line x1="855.9" y1="486.9" x2="855.9" y2="493.6" stroke="#0e0e0e" stroke-width="1.17"/>
<line x1="858.5" y1="486.9" x2="858.5" y2="491.78" stroke="#0e0e0e" stroke-width="1.17"/>
<circle cx="630.3" cy="383.8" r="6.9" fill="#fff" stroke="#0e0e0e" stroke-width="1.82"/>
<circle cx="630.3" cy="486.4" r="6.9" fill="#fff" stroke="#0e0e0e" stroke-width="1.82"/>
<circle cx="886.2" cy="383.8" r="6.9" fill="#fff" stroke="#0e0e0e" stroke-width="1.82"/>
<circle cx="886.2" cy="486.6" r="6.9" fill="#fff" stroke="#0e0e0e" stroke-width="1.82"/>
<line x1="886.2" y1="377" x2="886.2" y2="390.6" stroke="#0e0e0e" stroke-width="1.69"/>
<line x1="886.2" y1="480" x2="886.2" y2="493" stroke="#0e0e0e" stroke-width="1.69"/>
<circle cx="699.5" cy="374.5" r="4.4" fill="none" stroke="#0e0e0e" stroke-width="1.82"/>
<circle cx="699.5" cy="407.7" r="4.4" fill="none" stroke="#0e0e0e" stroke-width="1.82"/>
<circle cx="818.1" cy="374.2" r="4.4" fill="none" stroke="#0e0e0e" stroke-width="1.82"/>
<circle cx="818.1" cy="407.5" r="4.4" fill="none" stroke="#0e0e0e" stroke-width="1.82"/>
<line x1="724.5" y1="396.7" x2="724.5" y2="539.4" stroke="#0e0e0e" stroke-width="1.69"/>
<line x1="730.7" y1="396.7" x2="730.7" y2="539.4" stroke="#0e0e0e" stroke-width="1.69"/>
<line x1="786.6" y1="396.7" x2="786.6" y2="539.4" stroke="#0e0e0e" stroke-width="1.69"/>
<line x1="792.5" y1="396.7" x2="792.5" y2="539.4" stroke="#0e0e0e" stroke-width="1.69"/>
<path d="M726 459.7 L791 459.7 L800 468 L791 476 L726 476 L717.4 468 Z" fill="none" stroke="#0e0e0e" stroke-width="1.95" stroke-linejoin="round"/>
<line x1="722" y1="464.6" x2="795.6" y2="464.6" stroke="#0e0e0e" stroke-width="1.69"/>
<line x1="722" y1="470.4" x2="795.6" y2="470.4" stroke="#0e0e0e" stroke-width="1.69"/>
<path d="M727.5 459.7 Q723.5 468 727.5 476" fill="none" stroke="#0e0e0e" stroke-width="1.43" stroke-linejoin="round"/>
<path d="M789.5 459.7 Q793.5 468 789.5 476" fill="none" stroke="#0e0e0e" stroke-width="1.43" stroke-linejoin="round"/>
<circle cx="758.5" cy="489.6" r="7.2" fill="#fff" stroke="#0e0e0e" stroke-width="3.64"/>
<path d="M753.6 496 L763.6 496 L763.6 503.5 Q763.6 507.6 758.6 507.6 Q753.6 507.6 753.6 503.5 Z" fill="#0e0e0e" stroke="#0e0e0e" stroke-width="1.3" stroke-linejoin="round"/>
<rect x="757" y="500.8" width="1.2" height="2.6" rx="0" fill="#bbb" stroke="#0e0e0e" stroke-width="0"/>
<rect x="759.2" y="500.8" width="1.2" height="2.6" rx="0" fill="#bbb" stroke="#0e0e0e" stroke-width="0"/>
<line x1="758.7" y1="478" x2="758.7" y2="492.5" stroke="#0e0e0e" stroke-width="1.69"/>
<circle cx="758.5" cy="527.3" r="5.2" fill="#2e2e2e" stroke="#0e0e0e" stroke-width="0"/>
<path d="M706.5 511 L708.5 511 L718.5 534 Q720 537.5 723 539 L715.5 539 L712 528 Z" fill="#0e0e0e" stroke="#0e0e0e" stroke-width="0.78" stroke-linejoin="round"/>
<path d="M810.5 511 L808.5 511 L798.5 534 Q797 537.5 794 539 L801.5 539 L805 528 Z" fill="#0e0e0e" stroke="#0e0e0e" stroke-width="0.78" stroke-linejoin="round"/>
<rect x="674.5" y="506.5" width="2.6" height="64" rx="0" fill="#0e0e0e" stroke="#0e0e0e" stroke-width="0"/>
<rect x="678.6" y="506.5" width="3.6" height="64" rx="0" fill="#0e0e0e" stroke="#0e0e0e" stroke-width="0"/>
<line x1="685.5" y1="508" x2="685.5" y2="570" stroke="#0e0e0e" stroke-width="1.56"/>
<line x1="689" y1="508" x2="689" y2="536" stroke="#0e0e0e" stroke-width="1.3"/>
<path d="M689 536 L696 541 L696 508" fill="none" stroke="#0e0e0e" stroke-width="1.56" stroke-linejoin="round" stroke-linecap="round"/>
<line x1="702.5" y1="508" x2="702.5" y2="543" stroke="#0e0e0e" stroke-width="1.69"/>
<rect x="692.9" y="543.3" width="16.9" height="15.6" rx="0" fill="#fff" stroke="#0e0e0e" stroke-width="1.95"/>
<line x1="692.9" y1="548.5" x2="709.8" y2="548.5" stroke="#0e0e0e" stroke-width="1.3"/>
<line x1="692.9" y1="554" x2="709.8" y2="554" stroke="#0e0e0e" stroke-width="1.3"/>
<path d="M692.9 558.9 Q686 562 683 569" fill="none" stroke="#0e0e0e" stroke-width="1.69" stroke-linejoin="round"/>
<rect x="809.9" y="543.3" width="14.3" height="15.6" rx="0" fill="#fff" stroke="#0e0e0e" stroke-width="1.95"/>
<line x1="809.9" y1="548.5" x2="824.2" y2="548.5" stroke="#0e0e0e" stroke-width="1.3"/>
<line x1="809.9" y1="554" x2="824.2" y2="554" stroke="#0e0e0e" stroke-width="1.3"/>
<path d="M824.2 558.9 Q828 565 834 567" fill="none" stroke="#0e0e0e" stroke-width="1.69" stroke-linejoin="round"/>
<rect x="707.05" y="540" width="5.2" height="30.6" rx="0" fill="#0e0e0e" stroke="#0e0e0e" stroke-width="0"/>
<rect x="716.84" y="540" width="5.2" height="30.6" rx="0" fill="#0e0e0e" stroke="#0e0e0e" stroke-width="0"/>
<rect x="726.63" y="540" width="5.2" height="30.6" rx="0" fill="#0e0e0e" stroke="#0e0e0e" stroke-width="0"/>
<rect x="736.42" y="540" width="5.2" height="30.6" rx="0" fill="#0e0e0e" stroke="#0e0e0e" stroke-width="0"/>
<path d="M745.51 540 L745.51 553 Q745.51 558.5 748.81 558.5 Q752.11 558.5 752.11 553 L752.11 540" fill="none" stroke="#0e0e0e" stroke-width="1.69" stroke-linejoin="round"/>
<rect x="746.81" y="546" width="4" height="11" rx="2" fill="#0e0e0e" stroke="#0e0e0e" stroke-width="0"/>
<rect x="756.3" y="540" width="4.6" height="30.6" rx="0" fill="#0e0e0e" stroke="#0e0e0e" stroke-width="0"/>
<path d="M765.09 540 L765.09 553 Q765.09 558.5 768.39 558.5 Q771.69 558.5 771.69 553 L771.69 540" fill="none" stroke="#0e0e0e" stroke-width="1.69" stroke-linejoin="round"/>
<rect x="766.39" y="546" width="4" height="11" rx="2" fill="#0e0e0e" stroke="#0e0e0e" stroke-width="0"/>
<rect x="775.58" y="540" width="5.2" height="30.6" rx="0" fill="#0e0e0e" stroke="#0e0e0e" stroke-width="0"/>
<rect x="785.37" y="540" width="5.2" height="30.6" rx="0" fill="#0e0e0e" stroke="#0e0e0e" stroke-width="0"/>
<rect x="795.16" y="540" width="5.2" height="30.6" rx="0" fill="#0e0e0e" stroke="#0e0e0e" stroke-width="0"/>
<rect x="804.95" y="540" width="5.2" height="30.6" rx="0" fill="#0e0e0e" stroke="#0e0e0e" stroke-width="0"/>
<rect x="747.5" y="564.6" width="22" height="4.6" rx="0" fill="#0e0e0e" stroke="#0e0e0e" stroke-width="0"/>
<line x1="706" y1="569.6" x2="811" y2="569.6" stroke="#0e0e0e" stroke-width="1.82"/>
<rect x="826.8" y="506.9" width="67.6" height="59.8" rx="0" fill="#fff" stroke="#0e0e0e" stroke-width="1.95"/>
<line x1="841" y1="506.9" x2="841" y2="566.7" stroke="#0e0e0e" stroke-width="1.56"/>
<line x1="863.2" y1="506.9" x2="863.2" y2="566.7" stroke="#0e0e0e" stroke-width="1.69"/>
<line x1="866" y1="506.9" x2="866" y2="566.7" stroke="#0e0e0e" stroke-width="1.3"/>
<line x1="885.3" y1="506.9" x2="885.3" y2="566.7" stroke="#0e0e0e" stroke-width="1.56"/>
<line x1="826.8" y1="563.4" x2="894.4" y2="563.4" stroke="#0e0e0e" stroke-width="2.86"/>
<path d="M826.8 566.7 L894.4 566.7 L893 570.6 L828 570.6" fill="none" stroke="#0e0e0e" stroke-width="1.56" stroke-linejoin="round"/>
<rect x="839.3" y="570.6" width="48.6" height="17.7" rx="0" fill="#fff" stroke="#0e0e0e" stroke-width="1.82"/>
<line x1="839.3" y1="573.6" x2="887.9" y2="573.6" stroke="#0e0e0e" stroke-width="2.6"/>
<rect x="860" y="575" width="8" height="9" rx="0" fill="none" stroke="#0e0e0e" stroke-width="1.56"/>
<rect x="862" y="584" width="4" height="4.3" rx="0" fill="none" stroke="#0e0e0e" stroke-width="1.3"/>
<line x1="850" y1="573.6" x2="850" y2="588.3" stroke="#0e0e0e" stroke-width="1.3"/>
<line x1="878" y1="573.6" x2="878" y2="588.3" stroke="#0e0e0e" stroke-width="1.3"/>
<path d="M672.1 570.6 L845 570.6 L845 638 L843 640.8 L826.8 662.1 L694.2 662.1 L674 640.8 L672.1 638 Z" fill="#fff" stroke="#0e0e0e" stroke-width="2.08" stroke-linejoin="round"/>
<line x1="672.1" y1="634.3" x2="845" y2="634.3" stroke="#0e0e0e" stroke-width="1.69"/>
<line x1="674" y1="640.8" x2="843" y2="640.8" stroke="#0e0e0e" stroke-width="1.69"/>
<line x1="694.2" y1="660.2" x2="826.8" y2="660.2" stroke="#0e0e0e" stroke-width="1.56"/>
<ellipse cx="670.4" cy="575.3" rx="1.8" ry="3.6" fill="#0e0e0e" stroke="#0e0e0e" stroke-width="1.82"/>
<circle cx="758.7" cy="575.3" r="5" fill="#0e0e0e" stroke="#0e0e0e" stroke-width="0"/>
<line x1="758.7" y1="290" x2="758.7" y2="296" stroke="#0e0e0e" stroke-width="1.69"/>
<line x1="758.7" y1="314" x2="758.7" y2="334" stroke="#0e0e0e" stroke-width="1.69"/>
<line x1="758.7" y1="348" x2="758.7" y2="349.5" stroke="#0e0e0e" stroke-width="1.69"/>
<line x1="758.7" y1="353" x2="758.7" y2="368" stroke="#0e0e0e" stroke-width="1.69"/>
<line x1="758.7" y1="381" x2="758.7" y2="388.5" stroke="#0e0e0e" stroke-width="1.69"/>
<line x1="758.7" y1="391" x2="758.7" y2="401" stroke="#0e0e0e" stroke-width="1.69"/>
<line x1="758.7" y1="415" x2="758.7" y2="428" stroke="#0e0e0e" stroke-width="1.69"/>
<line x1="758.7" y1="433.5" x2="758.7" y2="445.6" stroke="#0e0e0e" stroke-width="1.69"/>
<line x1="758.7" y1="450.5" x2="758.7" y2="481" stroke="#0e0e0e" stroke-width="1.69"/>
<line x1="758.7" y1="507.6" x2="758.7" y2="523" stroke="#0e0e0e" stroke-width="1.69"/>
<line x1="758.7" y1="532" x2="758.7" y2="540" stroke="#0e0e0e" stroke-width="1.69"/>
<line x1="758.7" y1="581" x2="758.7" y2="592" stroke="#0e0e0e" stroke-width="1.69"/>
<line x1="758.7" y1="598" x2="758.7" y2="623" stroke="#0e0e0e" stroke-width="1.69"/>
<line x1="758.7" y1="629" x2="758.7" y2="640" stroke="#0e0e0e" stroke-width="1.69"/>
<line x1="758.7" y1="646" x2="758.7" y2="676" stroke="#0e0e0e" stroke-width="1.69"/>
</g>
<g id="dims">
<line x1="612" y1="38.6" x2="612" y2="424" stroke="#0e0e0e" stroke-width="1.9"/>
<line x1="905.2" y1="38.6" x2="905.2" y2="400" stroke="#0e0e0e" stroke-width="1.9"/>
<line x1="612" y1="54" x2="905.2" y2="54" stroke="#0e0e0e" stroke-width="1.9"/>
<polygon points="612,54 631.5,50.5 631.5,57.5" fill="#0e0e0e"/>
<polygon points="905.2,54 885.7,57.5 885.7,50.5" fill="#0e0e0e"/>
<g transform="translate(758.7 47.9) scale(1.04 1.02)" fill="none" stroke="#0e0e0e" stroke-width="1.7" stroke-linecap="round" stroke-linejoin="round">
<path transform="translate(-19 -20)" d="M0.3 4.6 C0.3 1.4 2.2 0 5 0 C8 0 9.8 1.6 9.8 4.8 C9.8 7.6 8.4 9.4 0.2 20 L10 20"/>
<path transform="translate(-5 -20)" d="M1.6 20 C6 18.4 10 13 10 6.2 C10 2.2 8.2 0 5 0 C1.8 0 0 2.2 0 6.2 C0 10 1.8 12 5 12 C7.6 12 9.4 10.4 10 7"/>
<path transform="translate(9 -20)" d="M5 0 C2.2 0 0.8 1.8 0.8 4.6 C0.8 7.4 2.2 9.2 5 9.2 C7.8 9.2 9.2 7.4 9.2 4.6 C9.2 1.8 7.8 0 5 0 Z M5 9.2 C1.8 9.2 0 11.4 0 14.6 C0 17.8 1.8 20 5 20 C8.2 20 10 17.8 10 14.6 C10 11.4 8.2 9.2 5 9.2 Z"/>
</g>
<line x1="630.8" y1="84" x2="630.8" y2="377" stroke="#0e0e0e" stroke-width="1.9"/>
<line x1="886.4" y1="84" x2="886.4" y2="390" stroke="#0e0e0e" stroke-width="1.9"/>
<line x1="630.8" y1="99.2" x2="886.4" y2="99.2" stroke="#0e0e0e" stroke-width="1.9"/>
<polygon points="630.8,99.2 650.3,95.7 650.3,102.7" fill="#0e0e0e"/>
<polygon points="886.4,99.2 866.9,102.7 866.9,95.7" fill="#0e0e0e"/>
<g transform="translate(758.7 93) scale(1.04 1.02)" fill="none" stroke="#0e0e0e" stroke-width="1.7" stroke-linecap="round" stroke-linejoin="round">
<path transform="translate(-19 -20)" d="M0.3 4.6 C0.3 1.4 2.2 0 5 0 C8 0 9.8 1.6 9.8 4.8 C9.8 7.6 8.4 9.4 0.2 20 L10 20"/>
<path transform="translate(-5 -20)" d="M8.4 0 C4 1.6 0 7 0 13.8 C0 17.8 1.8 20 5 20 C8.2 20 10 17.8 10 13.8 C10 10 8.2 8 5 8 C2.4 8 0.6 9.6 0 13"/>
<path transform="translate(9 -20)" d="M5 0 C1.2 0 0 3.5 0 10 C0 16.5 1.2 20 5 20 C8.8 20 10 16.5 10 10 C10 3.5 8.8 0 5 0 Z"/>
</g>
<line x1="884" y1="253.3" x2="972" y2="253.3" stroke="#0e0e0e" stroke-width="1.9"/>
<line x1="893" y1="383.8" x2="972" y2="383.8" stroke="#0e0e0e" stroke-width="1.9"/>
<line x1="957" y1="253.3" x2="957" y2="486.7" stroke="#0e0e0e" stroke-width="1.9"/>
<polygon points="957,253.3 960.5,272.8 953.5,272.8" fill="#0e0e0e"/>
<polygon points="957,383.8 953.5,364.3 960.5,364.3" fill="#0e0e0e"/>
<g transform="translate(950.7 318.3) rotate(-90) scale(0.97 0.98)" fill="none" stroke="#0e0e0e" stroke-width="1.7" stroke-linecap="round" stroke-linejoin="round">
<path transform="translate(-19.2 -20)" d="M1.2 6 L6 0 L6 20"/>
<path transform="translate(-6.6 -20)" d="M0.6 2.8 C1.6 0.8 3.2 0 5 0 C8 0 9.5 1.8 9.5 4.8 C9.5 8 7.6 9.4 4.2 9.4 C8 9.4 10 11.4 10 14.6 C10 18 8 20 5 20 C2.6 20 1 19 0 16.8"/>
<path transform="translate(7 -20)" d="M0.6 2.8 C1.6 0.8 3.2 0 5 0 C8 0 9.5 1.8 9.5 4.8 C9.5 8 7.6 9.4 4.2 9.4 C8 9.4 10 11.4 10 14.6 C10 18 8 20 5 20 C2.6 20 1 19 0 16.8"/>
</g>
<line x1="893" y1="486.7" x2="972" y2="486.7" stroke="#0e0e0e" stroke-width="1.9"/>
<polygon points="957,383.8 960.5,403.3 953.5,403.3" fill="#0e0e0e"/>
<polygon points="957,486.7 953.5,467.2 960.5,467.2" fill="#0e0e0e"/>
<g transform="translate(950.7 435.4) rotate(-90) scale(0.97 0.98)" fill="none" stroke="#0e0e0e" stroke-width="1.7" stroke-linecap="round" stroke-linejoin="round">
<path transform="translate(-19.2 -20)" d="M1.2 6 L6 0 L6 20"/>
<path transform="translate(-6.6 -20)" d="M5 0 C1.2 0 0 3.5 0 10 C0 16.5 1.2 20 5 20 C8.8 20 10 16.5 10 10 C10 3.5 8.8 0 5 0 Z"/>
<path transform="translate(7 -20)" d="M9.4 0 L1.2 0 L0.6 8.6 C2 7.4 3.6 7 5.2 7 C8.2 7 10 9.4 10 13.4 C10 17.6 8.2 20 5 20 C2.6 20 1 19 0 16.8"/>
</g>
<line x1="535.5" y1="363.8" x2="612" y2="363.8" stroke="#0e0e0e" stroke-width="1.9"/>
<line x1="535.5" y1="506.3" x2="612" y2="506.3" stroke="#0e0e0e" stroke-width="1.9"/>
<line x1="550.5" y1="363.8" x2="550.5" y2="506.3" stroke="#0e0e0e" stroke-width="1.9"/>
<polygon points="550.5,363.8 554,383.3 547,383.3" fill="#0e0e0e"/>
<polygon points="550.5,506.3 547,486.8 554,486.8" fill="#0e0e0e"/>
<g transform="translate(544.2 435.6) rotate(-90) scale(0.98 1)" fill="none" stroke="#0e0e0e" stroke-width="1.7" stroke-linecap="round" stroke-linejoin="round">
<path transform="translate(-19.2 -20)" d="M1.2 6 L6 0 L6 20"/>
<path transform="translate(-6.6 -20)" d="M6.6 0 L0 14 L10 14 M7.4 8.6 L7.4 20"/>
<path transform="translate(7 -20)" d="M9.4 0 L1.2 0 L0.6 8.6 C2 7.4 3.6 7 5.2 7 C8.2 7 10 9.4 10 13.4 C10 17.6 8.2 20 5 20 C2.6 20 1 19 0 16.8"/>
</g>
<line x1="580.2" y1="325" x2="580.2" y2="363.8" stroke="#0e0e0e" stroke-width="1.9"/>
<polygon points="580.2,363.8 576.7,344.3 583.7,344.3" fill="#0e0e0e"/>
<line x1="565.5" y1="383.9" x2="623.5" y2="383.9" stroke="#0e0e0e" stroke-width="1.9"/>
<line x1="580.2" y1="383.9" x2="580.2" y2="458.5" stroke="#0e0e0e" stroke-width="1.9"/>
<polygon points="580.2,383.9 583.7,403.4 576.7,403.4" fill="#0e0e0e"/>
<g transform="translate(574.2 440.3) rotate(-90) scale(0.98 1.02)" fill="none" stroke="#0e0e0e" stroke-width="1.7" stroke-linecap="round" stroke-linejoin="round">
<path transform="translate(-11.8 -20)" d="M0.3 4.6 C0.3 1.4 2.2 0 5 0 C8 0 9.8 1.6 9.8 4.8 C9.8 7.6 8.4 9.4 0.2 20 L10 20"/>
<path transform="translate(1.8 -20)" d="M5 0 C1.2 0 0 3.5 0 10 C0 16.5 1.2 20 5 20 C8.8 20 10 16.5 10 10 C10 3.5 8.8 0 5 0 Z"/>
</g>
<line x1="530.6" y1="567.8" x2="577.5" y2="567.8" stroke="#0e0e0e" stroke-width="1.9"/>
<line x1="577.5" y1="567.8" x2="657.6" y2="444.2" stroke="#0e0e0e" stroke-width="1.9"/>
<polygon points="625.8,492.6 619.11,508.51 614.06,505.26" fill="#0e0e0e"/>
<polygon points="634.4,480.2 641.09,464.29 646.14,467.54" fill="#0e0e0e"/>
<g transform="translate(535.6 561) scale(1 0.94)" fill="none" stroke="#0e0e0e" stroke-width="1.7" stroke-linecap="round" stroke-linejoin="round">
<path transform="translate(-5 -20)" d="M5 3.2 C1.6 3.2 0 6 0 10.6 C0 15.2 1.6 18 5 18 C8.4 18 10 15.2 10 10.6 C10 6 8.4 3.2 5 3.2 Z M7.6 0 L2.2 21"/>
</g>
<g transform="translate(559.5 561) scale(1 0.94)" fill="none" stroke="#0e0e0e" stroke-width="1.7" stroke-linecap="round" stroke-linejoin="round">
<path transform="translate(-12.4 -20)" d="M1.2 6 L6 0 L6 20"/>
<path transform="translate(0.2 -20)" d="M6.6 0 L0 14 L10 14 M7.4 8.6 L7.4 20"/>
</g>
<line x1="35.3" y1="529.8" x2="112" y2="529.8" stroke="#0e0e0e" stroke-width="1.9"/>
<line x1="35.3" y1="652.2" x2="99" y2="652.2" stroke="#0e0e0e" stroke-width="1.9"/>
<line x1="51" y1="529.8" x2="51" y2="652.1" stroke="#0e0e0e" stroke-width="1.9"/>
<polygon points="51,529.8 54.5,549.3 47.5,549.3" fill="#0e0e0e"/>
<polygon points="51,652.1 47.5,632.6 54.5,632.6" fill="#0e0e0e"/>
<g transform="translate(43.8 591) rotate(-90) scale(0.98 0.97)" fill="none" stroke="#0e0e0e" stroke-width="1.7" stroke-linecap="round" stroke-linejoin="round">
<path transform="translate(-19.2 -20)" d="M1.2 6 L6 0 L6 20"/>
<path transform="translate(-6.6 -20)" d="M0.3 4.6 C0.3 1.4 2.2 0 5 0 C8 0 9.8 1.6 9.8 4.8 C9.8 7.6 8.4 9.4 0.2 20 L10 20"/>
<path transform="translate(7 -20)" d="M6.6 0 L0 14 L10 14 M7.4 8.6 L7.4 20"/>
</g>
<line x1="60.7" y1="648.2" x2="99" y2="648.2" stroke="#0e0e0e" stroke-width="1.9"/>
<line x1="75.4" y1="608.8" x2="75.4" y2="648.2" stroke="#0e0e0e" stroke-width="1.9"/>
<polygon points="75.4,648.2 71.9,628.7 78.9,628.7" fill="#0e0e0e"/>
<line x1="75.4" y1="652.3" x2="75.4" y2="714.3" stroke="#0e0e0e" stroke-width="1.9"/>
<polygon points="75.4,652.3 78.9,671.8 71.9,671.8" fill="#0e0e0e"/>
<g transform="translate(67.8 703) rotate(-90) scale(0.98 0.97)" fill="none" stroke="#0e0e0e" stroke-width="1.7" stroke-linecap="round" stroke-linejoin="round">
<path transform="translate(-5 -20)" d="M6.6 0 L0 14 L10 14 M7.4 8.6 L7.4 20"/>
</g>
<line x1="145.3" y1="598.5" x2="145.3" y2="716.5" stroke="#0e0e0e" stroke-width="1.9"/>
<line x1="250.5" y1="655" x2="250.5" y2="660" stroke="#0e0e0e" stroke-width="1.9"/>
<line x1="250.5" y1="664" x2="250.5" y2="716.5" stroke="#0e0e0e" stroke-width="1.9"/>
<line x1="145.3" y1="702.2" x2="250.5" y2="702.2" stroke="#0e0e0e" stroke-width="1.9"/>
<polygon points="145.3,702.2 164.8,698.7 164.8,705.7" fill="#0e0e0e"/>
<polygon points="250.5,702.2 231,705.7 231,698.7" fill="#0e0e0e"/>
<g transform="translate(197.5 695.3) scale(1 0.93)" fill="none" stroke="#0e0e0e" stroke-width="1.7" stroke-linecap="round" stroke-linejoin="round">
<path transform="translate(-19.2 -20)" d="M1.2 6 L6 0 L6 20"/>
<path transform="translate(-6.6 -20)" d="M5 0 C1.2 0 0 3.5 0 10 C0 16.5 1.2 20 5 20 C8.8 20 10 16.5 10 10 C10 3.5 8.8 0 5 0 Z"/>
<path transform="translate(7 -20)" d="M0 0 L10 0 L3.6 20"/>
</g>
</g>
<g id="wm" fill="#d0d0d0" stroke="none" style="mix-blend-mode:multiply">
<rect x="309" y="275.5" width="89" height="11"/>
<rect x="309" y="275.5" width="14" height="80.5"/>
<rect x="384" y="275.5" width="14" height="76.5"/>
<path d="M345 300.5 L361 302 C360 330 352 356 322 392 L308 384 C336 352 345 330 345 300.5 Z"/>
<path d="M368 346 L409 372 L400 384.5 L359 357 Z"/>
<rect x="445" y="273" width="98" height="10"/>
<rect x="486.5" y="273" width="13.5" height="117"/>
<rect x="434.5" y="289" width="118.5" height="11.5"/>
<rect x="434.5" y="289" width="12.5" height="26.5"/>
<rect x="539.5" y="289" width="13.5" height="26.5"/>
<rect x="453" y="304.5" width="28.5" height="8"/>
<rect x="453" y="318" width="28.5" height="10"/>
<rect x="505.5" y="304.5" width="28" height="8"/>
<rect x="505.5" y="318" width="28" height="10"/>
<rect x="448" y="332.5" width="92" height="10"/>
<rect x="448" y="352.5" width="92" height="10"/>
<rect x="448" y="373" width="92" height="10"/>
<rect x="448" y="332.5" width="13.5" height="57.5"/>
<rect x="526" y="332.5" width="14" height="57.5"/>
<rect x="581" y="285.7" width="107" height="10.7"/>
<rect x="628.4" y="270" width="13.2" height="38"/>
<rect x="593" y="306.8" width="83" height="11.7"/>
<rect x="593" y="336" width="83" height="11.7"/>
<rect x="593" y="306.8" width="13" height="40.9"/>
<rect x="663" y="306.8" width="13" height="40.9"/>
<path d="M627 347 L641 347 C641 368 620 384 586 392 L581 381 C610 374 627 364 627 347 Z"/>
<path d="M652.5 347 L665.5 347 L665.5 372 Q665.5 375 669 375 L680 375 L682 362 L692 364 L690 381 Q689 386 683 386 L664 386 Q652.5 386 652.5 376 Z"/>
<ellipse cx="722.2" cy="240.6" rx="42.7" ry="34.2" fill="none" stroke="#d0d0d0" stroke-width="4.8"/>
<text transform="translate(723.6 261) scale(1.12 1)" font-size="58" font-weight="bold" text-anchor="middle" fill="#d0d0d0">R</text>
<text transform="translate(301.5 491.5) scale(0.48 1)" font-size="122" font-weight="bold" fill="#d0d0d0">B</text>
<text transform="translate(362.5 492.5) scale(0.62 1)" font-size="112" font-weight="bold" fill="#d0d0d0">a</text>
<rect x="437.3" y="405" width="10.5" height="15.1"/>
<rect x="437.3" y="433.4" width="10.5" height="59.1"/>
<rect x="495.6" y="403.7" width="9" height="88.8"/>
<path d="M573.2 462 A15.4 25.2 0 1 0 571 479.5" fill="none" stroke="#d0d0d0" stroke-width="10.6"/>
<path d="M542 462 L578.4 462" fill="none" stroke="#d0d0d0" stroke-width="9"/>
<path d="M593 433.7 L602.6 433.7 L615.6 478.5 L627.2 433.7 L637 433.7 L619 496 Q616 505.5 609 507.5 L598.4 507.5 L598.4 499.4 L606 499.4 Q609.5 498 610.3 492.5 Z"/>
<rect x="651" y="403.1" width="12.2" height="90.2"/>
<path d="M663.2 465.5 L680.3 433.7 L692 433.7 L663.2 483.5 Z"/>
<path d="M666.5 463 L675 451.5 L694.5 493.3 L682.8 493.3 Z"/>
</g>
</svg>
</body></html>
